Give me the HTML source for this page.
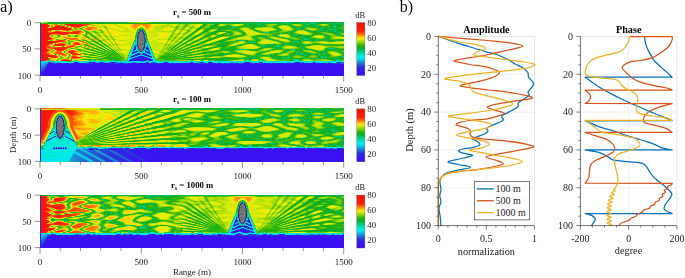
<!DOCTYPE html><html><head><meta charset="utf-8"><style>html,body{margin:0;padding:0;background:#fff;}svg{display:block;filter:blur(0.35px)}</style></head><body>
<svg width="685" height="278" viewBox="0 0 685 278" font-family='"Liberation Serif", serif'>
<rect width="685" height="278" fill="#fff"/>
<g opacity="0.999">
<defs>
<filter id="hm0" filterUnits="userSpaceOnUse" x="40.0" y="22.6" width="303.7" height="52.5" color-interpolation-filters="sRGB">
<feGaussianBlur in="SourceGraphic" stdDeviation="0.5" result="src"/>
<feColorMatrix in="src" type="matrix" values="0 1 0 0 0  0 1 0 0 0  0 1 0 0 0  0 0 0 0 1" result="amp"/>
<feColorMatrix in="src" type="matrix" values="1 0 0 0 0  1 0 0 0 0  1 0 0 0 0  0 0 0 0 1" result="base"/>
<feTurbulence type="turbulence" baseFrequency="0.058 0.22" numOctaves="1" seed="7" result="n0"/>
<feColorMatrix in="n0" type="matrix" values="0 0 0 1 0  0 0 0 1 0  0 0 0 1 0  0 0 0 0 1" result="n1"/>
<feComponentTransfer in="n1" result="n">
<feFuncR type="table" tableValues="0.000 0.246 0.360 0.450 0.527 0.596 0.659 0.718 0.772 0.824 0.873 0.920 0.965 1.000 1.000 1.000 1.000 1.000 1.000 1.000 1.000 1.000 1.000 1.000 1.000 1.000 1.000 1.000 1.000 1.000 1.000 1.000 1.000 1.000 1.000 1.000 1.000 1.000 1.000 1.000 1.000"/><feFuncG type="table" tableValues="0.000 0.246 0.360 0.450 0.527 0.596 0.659 0.718 0.772 0.824 0.873 0.920 0.965 1.000 1.000 1.000 1.000 1.000 1.000 1.000 1.000 1.000 1.000 1.000 1.000 1.000 1.000 1.000 1.000 1.000 1.000 1.000 1.000 1.000 1.000 1.000 1.000 1.000 1.000 1.000 1.000"/><feFuncB type="table" tableValues="0.000 0.246 0.360 0.450 0.527 0.596 0.659 0.718 0.772 0.824 0.873 0.920 0.965 1.000 1.000 1.000 1.000 1.000 1.000 1.000 1.000 1.000 1.000 1.000 1.000 1.000 1.000 1.000 1.000 1.000 1.000 1.000 1.000 1.000 1.000 1.000 1.000 1.000 1.000 1.000 1.000"/>
</feComponentTransfer>
<feComposite in="amp" in2="n" operator="arithmetic" k1="1" result="prod"/>
<feComposite in="base" in2="amp" operator="arithmetic" k2="1" k3="-0.27999999999999997" result="b2"/>
<feComposite in="b2" in2="prod" operator="arithmetic" k2="1" k3="0.4" result="f"/>
<feComponentTransfer in="f">
<feFuncR type="table" tableValues="0.235 0.233 0.230 0.227 0.224 0.222 0.219 0.216 0.203 0.186 0.170 0.155 0.146 0.138 0.129 0.120 0.102 0.081 0.059 0.038 0.023 0.009 0.000 0.000 0.000 0.000 0.000 0.000 0.000 0.002 0.013 0.024 0.035 0.062 0.100 0.138 0.176 0.285 0.394 0.503 0.601 0.681 0.774 0.874 0.945 0.987 1.000 1.000 0.998 0.991 0.983 0.979 0.976 0.973 0.971 0.970 0.969 0.968 0.967 0.966 0.964 0.963 0.962 0.961"/>
<feFuncG type="table" tableValues="0.055 0.061 0.067 0.073 0.079 0.085 0.091 0.097 0.129 0.167 0.205 0.248 0.314 0.379 0.444 0.510 0.583 0.659 0.735 0.809 0.860 0.911 0.935 0.918 0.902 0.886 0.861 0.833 0.806 0.778 0.748 0.717 0.687 0.681 0.692 0.703 0.714 0.746 0.779 0.812 0.844 0.874 0.902 0.928 0.929 0.878 0.773 0.664 0.558 0.456 0.354 0.270 0.198 0.125 0.113 0.109 0.104 0.099 0.094 0.090 0.085 0.080 0.075 0.071"/>
<feFuncB type="table" tableValues="0.961 0.958 0.955 0.953 0.950 0.947 0.944 0.942 0.917 0.886 0.856 0.831 0.831 0.831 0.831 0.831 0.847 0.868 0.890 0.911 0.923 0.934 0.919 0.865 0.810 0.756 0.684 0.608 0.532 0.453 0.366 0.279 0.192 0.137 0.105 0.072 0.039 0.039 0.039 0.039 0.039 0.039 0.039 0.039 0.039 0.039 0.039 0.039 0.039 0.039 0.039 0.039 0.039 0.039 0.039 0.038 0.037 0.036 0.035 0.035 0.034 0.033 0.032 0.031"/>
<feFuncA type="identity"/>
</feComponentTransfer>
</filter>
<filter id="hm1" filterUnits="userSpaceOnUse" x="40.0" y="108.9" width="303.7" height="52.5" color-interpolation-filters="sRGB">
<feGaussianBlur in="SourceGraphic" stdDeviation="0.5" result="src"/>
<feColorMatrix in="src" type="matrix" values="0 1 0 0 0  0 1 0 0 0  0 1 0 0 0  0 0 0 0 1" result="amp"/>
<feColorMatrix in="src" type="matrix" values="1 0 0 0 0  1 0 0 0 0  1 0 0 0 0  0 0 0 0 1" result="base"/>
<feTurbulence type="turbulence" baseFrequency="0.058 0.22" numOctaves="1" seed="11" result="n0"/>
<feColorMatrix in="n0" type="matrix" values="0 0 0 1 0  0 0 0 1 0  0 0 0 1 0  0 0 0 0 1" result="n1"/>
<feComponentTransfer in="n1" result="n">
<feFuncR type="table" tableValues="0.000 0.246 0.360 0.450 0.527 0.596 0.659 0.718 0.772 0.824 0.873 0.920 0.965 1.000 1.000 1.000 1.000 1.000 1.000 1.000 1.000 1.000 1.000 1.000 1.000 1.000 1.000 1.000 1.000 1.000 1.000 1.000 1.000 1.000 1.000 1.000 1.000 1.000 1.000 1.000 1.000"/><feFuncG type="table" tableValues="0.000 0.246 0.360 0.450 0.527 0.596 0.659 0.718 0.772 0.824 0.873 0.920 0.965 1.000 1.000 1.000 1.000 1.000 1.000 1.000 1.000 1.000 1.000 1.000 1.000 1.000 1.000 1.000 1.000 1.000 1.000 1.000 1.000 1.000 1.000 1.000 1.000 1.000 1.000 1.000 1.000"/><feFuncB type="table" tableValues="0.000 0.246 0.360 0.450 0.527 0.596 0.659 0.718 0.772 0.824 0.873 0.920 0.965 1.000 1.000 1.000 1.000 1.000 1.000 1.000 1.000 1.000 1.000 1.000 1.000 1.000 1.000 1.000 1.000 1.000 1.000 1.000 1.000 1.000 1.000 1.000 1.000 1.000 1.000 1.000 1.000"/>
</feComponentTransfer>
<feComposite in="amp" in2="n" operator="arithmetic" k1="1" result="prod"/>
<feComposite in="base" in2="amp" operator="arithmetic" k2="1" k3="-0.27999999999999997" result="b2"/>
<feComposite in="b2" in2="prod" operator="arithmetic" k2="1" k3="0.4" result="f"/>
<feComponentTransfer in="f">
<feFuncR type="table" tableValues="0.235 0.233 0.230 0.227 0.224 0.222 0.219 0.216 0.203 0.186 0.170 0.155 0.146 0.138 0.129 0.120 0.102 0.081 0.059 0.038 0.023 0.009 0.000 0.000 0.000 0.000 0.000 0.000 0.000 0.002 0.013 0.024 0.035 0.062 0.100 0.138 0.176 0.285 0.394 0.503 0.601 0.681 0.774 0.874 0.945 0.987 1.000 1.000 0.998 0.991 0.983 0.979 0.976 0.973 0.971 0.970 0.969 0.968 0.967 0.966 0.964 0.963 0.962 0.961"/>
<feFuncG type="table" tableValues="0.055 0.061 0.067 0.073 0.079 0.085 0.091 0.097 0.129 0.167 0.205 0.248 0.314 0.379 0.444 0.510 0.583 0.659 0.735 0.809 0.860 0.911 0.935 0.918 0.902 0.886 0.861 0.833 0.806 0.778 0.748 0.717 0.687 0.681 0.692 0.703 0.714 0.746 0.779 0.812 0.844 0.874 0.902 0.928 0.929 0.878 0.773 0.664 0.558 0.456 0.354 0.270 0.198 0.125 0.113 0.109 0.104 0.099 0.094 0.090 0.085 0.080 0.075 0.071"/>
<feFuncB type="table" tableValues="0.961 0.958 0.955 0.953 0.950 0.947 0.944 0.942 0.917 0.886 0.856 0.831 0.831 0.831 0.831 0.831 0.847 0.868 0.890 0.911 0.923 0.934 0.919 0.865 0.810 0.756 0.684 0.608 0.532 0.453 0.366 0.279 0.192 0.137 0.105 0.072 0.039 0.039 0.039 0.039 0.039 0.039 0.039 0.039 0.039 0.039 0.039 0.039 0.039 0.039 0.039 0.039 0.039 0.039 0.039 0.038 0.037 0.036 0.035 0.035 0.034 0.033 0.032 0.031"/>
<feFuncA type="identity"/>
</feComponentTransfer>
</filter>
<filter id="hm2" filterUnits="userSpaceOnUse" x="40.0" y="195.1" width="303.7" height="52.5" color-interpolation-filters="sRGB">
<feGaussianBlur in="SourceGraphic" stdDeviation="0.5" result="src"/>
<feColorMatrix in="src" type="matrix" values="0 1 0 0 0  0 1 0 0 0  0 1 0 0 0  0 0 0 0 1" result="amp"/>
<feColorMatrix in="src" type="matrix" values="1 0 0 0 0  1 0 0 0 0  1 0 0 0 0  0 0 0 0 1" result="base"/>
<feTurbulence type="turbulence" baseFrequency="0.058 0.22" numOctaves="1" seed="5" result="n0"/>
<feColorMatrix in="n0" type="matrix" values="0 0 0 1 0  0 0 0 1 0  0 0 0 1 0  0 0 0 0 1" result="n1"/>
<feComponentTransfer in="n1" result="n">
<feFuncR type="table" tableValues="0.000 0.246 0.360 0.450 0.527 0.596 0.659 0.718 0.772 0.824 0.873 0.920 0.965 1.000 1.000 1.000 1.000 1.000 1.000 1.000 1.000 1.000 1.000 1.000 1.000 1.000 1.000 1.000 1.000 1.000 1.000 1.000 1.000 1.000 1.000 1.000 1.000 1.000 1.000 1.000 1.000"/><feFuncG type="table" tableValues="0.000 0.246 0.360 0.450 0.527 0.596 0.659 0.718 0.772 0.824 0.873 0.920 0.965 1.000 1.000 1.000 1.000 1.000 1.000 1.000 1.000 1.000 1.000 1.000 1.000 1.000 1.000 1.000 1.000 1.000 1.000 1.000 1.000 1.000 1.000 1.000 1.000 1.000 1.000 1.000 1.000"/><feFuncB type="table" tableValues="0.000 0.246 0.360 0.450 0.527 0.596 0.659 0.718 0.772 0.824 0.873 0.920 0.965 1.000 1.000 1.000 1.000 1.000 1.000 1.000 1.000 1.000 1.000 1.000 1.000 1.000 1.000 1.000 1.000 1.000 1.000 1.000 1.000 1.000 1.000 1.000 1.000 1.000 1.000 1.000 1.000"/>
</feComponentTransfer>
<feComposite in="amp" in2="n" operator="arithmetic" k1="1" result="prod"/>
<feComposite in="base" in2="amp" operator="arithmetic" k2="1" k3="-0.27999999999999997" result="b2"/>
<feComposite in="b2" in2="prod" operator="arithmetic" k2="1" k3="0.4" result="f"/>
<feComponentTransfer in="f">
<feFuncR type="table" tableValues="0.235 0.233 0.230 0.227 0.224 0.222 0.219 0.216 0.203 0.186 0.170 0.155 0.146 0.138 0.129 0.120 0.102 0.081 0.059 0.038 0.023 0.009 0.000 0.000 0.000 0.000 0.000 0.000 0.000 0.002 0.013 0.024 0.035 0.062 0.100 0.138 0.176 0.285 0.394 0.503 0.601 0.681 0.774 0.874 0.945 0.987 1.000 1.000 0.998 0.991 0.983 0.979 0.976 0.973 0.971 0.970 0.969 0.968 0.967 0.966 0.964 0.963 0.962 0.961"/>
<feFuncG type="table" tableValues="0.055 0.061 0.067 0.073 0.079 0.085 0.091 0.097 0.129 0.167 0.205 0.248 0.314 0.379 0.444 0.510 0.583 0.659 0.735 0.809 0.860 0.911 0.935 0.918 0.902 0.886 0.861 0.833 0.806 0.778 0.748 0.717 0.687 0.681 0.692 0.703 0.714 0.746 0.779 0.812 0.844 0.874 0.902 0.928 0.929 0.878 0.773 0.664 0.558 0.456 0.354 0.270 0.198 0.125 0.113 0.109 0.104 0.099 0.094 0.090 0.085 0.080 0.075 0.071"/>
<feFuncB type="table" tableValues="0.961 0.958 0.955 0.953 0.950 0.947 0.944 0.942 0.917 0.886 0.856 0.831 0.831 0.831 0.831 0.831 0.847 0.868 0.890 0.911 0.923 0.934 0.919 0.865 0.810 0.756 0.684 0.608 0.532 0.453 0.366 0.279 0.192 0.137 0.105 0.072 0.039 0.039 0.039 0.039 0.039 0.039 0.039 0.039 0.039 0.039 0.039 0.039 0.039 0.039 0.039 0.039 0.039 0.039 0.039 0.038 0.037 0.036 0.035 0.035 0.034 0.033 0.032 0.031"/>
<feFuncA type="identity"/>
</feComponentTransfer>
</filter>
<linearGradient id="cb" x1="0" y1="1" x2="0" y2="0">
<stop offset="0.000" stop-color="#3c0ef5"/>
<stop offset="0.025" stop-color="#3a10f3"/>
<stop offset="0.050" stop-color="#3912f2"/>
<stop offset="0.075" stop-color="#3815f1"/>
<stop offset="0.100" stop-color="#3717f0"/>
<stop offset="0.125" stop-color="#341fea"/>
<stop offset="0.150" stop-color="#2d2ede"/>
<stop offset="0.175" stop-color="#273fd4"/>
<stop offset="0.200" stop-color="#245ad4"/>
<stop offset="0.225" stop-color="#2074d4"/>
<stop offset="0.250" stop-color="#1b8fd6"/>
<stop offset="0.275" stop-color="#12aedf"/>
<stop offset="0.300" stop-color="#0acde8"/>
<stop offset="0.325" stop-color="#04e1ec"/>
<stop offset="0.350" stop-color="#00eee9"/>
<stop offset="0.375" stop-color="#00e7d3"/>
<stop offset="0.400" stop-color="#00e1be"/>
<stop offset="0.425" stop-color="#00d69f"/>
<stop offset="0.450" stop-color="#00cb80"/>
<stop offset="0.475" stop-color="#03bf5f"/>
<stop offset="0.500" stop-color="#07b23b"/>
<stop offset="0.525" stop-color="#10ad22"/>
<stop offset="0.550" stop-color="#1fb215"/>
<stop offset="0.575" stop-color="#33b70a"/>
<stop offset="0.600" stop-color="#5fc50a"/>
<stop offset="0.625" stop-color="#8ad20a"/>
<stop offset="0.650" stop-color="#acde0a"/>
<stop offset="0.675" stop-color="#d2e90a"/>
<stop offset="0.700" stop-color="#f2ec0a"/>
<stop offset="0.725" stop-color="#fece0a"/>
<stop offset="0.750" stop-color="#ffa20a"/>
<stop offset="0.775" stop-color="#fc780a"/>
<stop offset="0.800" stop-color="#fa500a"/>
<stop offset="0.825" stop-color="#f8320a"/>
<stop offset="0.850" stop-color="#f71d09"/>
<stop offset="0.875" stop-color="#f71b09"/>
<stop offset="0.900" stop-color="#f61909"/>
<stop offset="0.925" stop-color="#f61708"/>
<stop offset="0.950" stop-color="#f51508"/>
<stop offset="0.975" stop-color="#f51308"/>
<stop offset="1.000" stop-color="#f51208"/>
</linearGradient>
</defs>
<defs><filter id="gnoise" x="-20%" y="-20%" width="140%" height="140%" color-interpolation-filters="sRGB">
<feTurbulence type="fractalNoise" baseFrequency="0.9" numOctaves="1" seed="3" result="n"/>
<feColorMatrix in="n" type="matrix" values="0 0 0 0.5 0.25  0 0 0 0.5 0.25  0 0 0 0.5 0.25  0 0 0 0 1" result="ng"/>
<feComposite in="SourceGraphic" in2="ng" operator="arithmetic" k2="1" k3="0.8" k4="-0.4" result="c"/>
<feComposite in="c" in2="SourceGraphic" operator="in"/>
</filter></defs>
<g filter="url(#hm0)">
<defs><linearGradient id="g1" gradientUnits="userSpaceOnUse" x1="40.0" y1="0.0" x2="343.7" y2="0.0"><stop offset="0.000" stop-color="#f81a00" stop-opacity="1"/><stop offset="0.016" stop-color="#f04c00" stop-opacity="1"/><stop offset="0.036" stop-color="#ccff00" stop-opacity="1"/><stop offset="0.099" stop-color="#c5ff00" stop-opacity="1"/><stop offset="0.158" stop-color="#bab200" stop-opacity="1"/><stop offset="0.198" stop-color="#b14000" stop-opacity="1"/><stop offset="0.263" stop-color="#af2600" stop-opacity="1"/><stop offset="0.333" stop-color="#ad1a00" stop-opacity="1"/><stop offset="0.402" stop-color="#ad2600" stop-opacity="1"/><stop offset="0.527" stop-color="#ab3300" stop-opacity="1"/><stop offset="0.586" stop-color="#a28000" stop-opacity="1"/><stop offset="0.659" stop-color="#9aa300" stop-opacity="1"/><stop offset="1.000" stop-color="#9aa300" stop-opacity="1"/></linearGradient></defs>
<rect x="40.0" y="22.6" width="303.7" height="40.2" fill="url(#g1)"/>
<defs><radialGradient id="g2" gradientUnits="userSpaceOnUse" cx="141.2" cy="40.9" r="20" gradientTransform="translate(141.2 40.9) scale(1 1.3000) translate(-141.2 -40.9)"><stop offset="0" stop-color="#af0000" stop-opacity="1"/><stop offset="0.7" stop-color="#ad0d00" stop-opacity="0.8"/><stop offset="1" stop-color="#ab1a00" stop-opacity="0"/></radialGradient></defs>
<ellipse cx="141.2" cy="40.9" rx="20.00" ry="26.00" fill="url(#g2)" />
<defs><radialGradient id="g3" gradientUnits="userSpaceOnUse" cx="141.2" cy="26.1" r="16" gradientTransform="translate(141.2 26.1) scale(1 0.4375) translate(-141.2 -26.1)"><stop offset="0" stop-color="#d00000" stop-opacity="1"/><stop offset="0.45" stop-color="#c80000" stop-opacity="0.85"/><stop offset="1" stop-color="#b20000" stop-opacity="0"/></radialGradient></defs>
<ellipse cx="141.2" cy="26.1" rx="16.00" ry="7.00" fill="url(#g3)" />
<defs><radialGradient id="g4" gradientUnits="userSpaceOnUse" cx="141.2" cy="28.6" r="9" gradientTransform="translate(141.2 28.6) scale(1 0.6667) translate(-141.2 -28.6)"><stop offset="0" stop-color="#cc0000" stop-opacity="1"/><stop offset="0.5" stop-color="#c50000" stop-opacity="0.9"/><stop offset="1" stop-color="#b60000" stop-opacity="0"/></radialGradient></defs>
<ellipse cx="141.2" cy="28.6" rx="9.00" ry="6.00" fill="url(#g4)" />
<ellipse cx="141.2" cy="39.3" rx="7.40" ry="14.00" fill="#b10000" />
<ellipse cx="141.2" cy="40.3" rx="6.40" ry="12.80" fill="#920000" />
<defs><linearGradient id="g5" gradientUnits="userSpaceOnUse" x1="0.0" y1="32.6" x2="0.0" y2="61.8"><stop offset="0.000" stop-color="#ab1a00" stop-opacity="0"/><stop offset="0.500" stop-color="#b61a00" stop-opacity="0.5"/><stop offset="1.000" stop-color="#bd1a00" stop-opacity="0.9"/></linearGradient></defs>
<polygon points="124.7,59.8 81.2,32.6 81.2,61.8" fill="url(#g5)" />
<defs><radialGradient id="g6" gradientUnits="userSpaceOnUse" cx="155.2" cy="60.8" r="90"><stop offset="0" stop-color="#871a00" stop-opacity="0.5"/><stop offset="0.3" stop-color="#871a00" stop-opacity="1"/><stop offset="0.8" stop-color="#871a00" stop-opacity="1"/><stop offset="1" stop-color="#871a00" stop-opacity="0"/></radialGradient></defs>
<path d="M155.2,61.0L245.2,58.9L245.1,56.4L155.2,60.5ZM155.3,61.0L244.9,53.4L244.7,50.9L155.2,60.5ZM155.3,61.0L244.3,47.9L243.9,45.5L155.2,60.5ZM155.3,61.0L243.3,42.1L242.7,39.5L155.2,60.5ZM155.3,61.0L241.8,36.1L241.0,33.4L155.2,60.5ZM155.3,61.0L239.8,29.9L238.7,27.2L155.1,60.5ZM155.3,61.0L237.1,23.4L235.8,20.6L155.1,60.5ZM155.4,61.0L233.6,16.5L231.9,13.7L155.1,60.5ZM155.4,61.0L229.1,9.3L227.0,6.4L155.1,60.6Z" fill="url(#g6)"/>
<defs><radialGradient id="g7" gradientUnits="userSpaceOnUse" cx="155.2" cy="60.8" r="60"><stop offset="0" stop-color="#921a00" stop-opacity="0.3"/><stop offset="0.3" stop-color="#921a00" stop-opacity="0.6"/><stop offset="0.8" stop-color="#921a00" stop-opacity="0.6"/><stop offset="1" stop-color="#921a00" stop-opacity="0"/></radialGradient></defs>
<path d="M155.4,61.0L200.7,21.6L198.9,19.6L155.1,60.6ZM155.4,60.9L195.6,16.4L193.6,14.6L155.0,60.6ZM155.4,60.9L189.2,11.3L186.6,9.6L155.0,60.6Z" fill="url(#g7)"/>
<defs><radialGradient id="g8" gradientUnits="userSpaceOnUse" cx="127.2" cy="60.8" r="58"><stop offset="0" stop-color="#871a00" stop-opacity="0.5"/><stop offset="0.3" stop-color="#871a00" stop-opacity="1"/><stop offset="0.7" stop-color="#871a00" stop-opacity="1"/><stop offset="1" stop-color="#871a00" stop-opacity="0"/></radialGradient></defs>
<path d="M127.2,60.5L69.3,57.9L69.2,59.6L127.2,61.0ZM127.3,60.5L69.6,54.3L69.4,56.1L127.2,61.0ZM127.3,60.5L70.1,50.8L69.8,52.6L127.2,61.0ZM127.3,60.5L70.9,47.0L70.5,48.8L127.2,61.0ZM127.3,60.5L72.0,43.1L71.4,44.9L127.2,61.0ZM127.3,60.5L73.4,39.0L72.7,40.9L127.1,61.0ZM127.3,60.5L75.3,34.8L74.4,36.8L127.1,61.0ZM127.4,60.5L77.8,30.3L76.7,32.3L127.1,61.0ZM127.4,60.6L81.0,25.7L79.6,27.7L127.1,61.0Z" fill="url(#g8)"/>
<defs><radialGradient id="g9" gradientUnits="userSpaceOnUse" cx="127.2" cy="60.8" r="50"><stop offset="0" stop-color="#921a00" stop-opacity="0.3"/><stop offset="0.3" stop-color="#921a00" stop-opacity="0.6"/><stop offset="0.8" stop-color="#921a00" stop-opacity="0.6"/><stop offset="1" stop-color="#921a00" stop-opacity="0"/></radialGradient></defs>
<path d="M127.4,60.6L90.9,26.4L89.3,28.2L127.1,61.0ZM127.4,60.6L95.3,22.3L93.6,23.8L127.0,60.9ZM127.4,60.6L101.1,18.1L98.9,19.5L127.0,60.9Z" fill="url(#g9)"/>
<polygon points="135.2,38.9 147.2,38.9 156.7,62.3 125.7,62.3" fill="#620d00" />
<polygon points="136.4,40.9 146.0,40.9 153.7,62.3 128.7,62.3" fill="#160000" />
<polyline points="133.7,51.7 141.2,46.7 148.7,51.7" fill="none" stroke="#570000" stroke-width="1.3" />
<polyline points="131.2,55.5 141.2,50.9 151.2,55.5" fill="none" stroke="#570000" stroke-width="1.4" />
<polyline points="128.7,59.1 141.2,54.9 153.7,59.1" fill="none" stroke="#570000" stroke-width="1.4" />
<ellipse cx="141.2" cy="41.2" rx="5.90" ry="12.30" fill="#800000" />
<ellipse cx="141.2" cy="41.1" rx="5.00" ry="11.60" fill="#5b0000" />
<ellipse cx="141.2" cy="40.9" rx="4.30" ry="11.10" fill="#120000" />
<rect x="40.0" y="61.8" width="303.7" height="14.3" fill="#070000"/>
<defs><linearGradient id="g10" gradientUnits="userSpaceOnUse" x1="0.0" y1="61.8" x2="0.0" y2="65.8"><stop offset="0.000" stop-color="#210000" stop-opacity="1"/><stop offset="1.000" stop-color="#070000" stop-opacity="1"/></linearGradient></defs>
<rect x="40.0" y="61.8" width="303.7" height="4" fill="url(#g10)"/>
<polygon points="40.0,61.2 43.3,61.2 46.0,61.0 48.8,60.1 50.9,60.9 53.8,60.9 57.2,61.4 59.0,60.9 60.6,61.0 62.2,61.2 65.4,61.3 67.9,61.4 69.9,61.7 73.1,61.4 75.1,59.7 78.1,61.2 80.4,61.6 81.9,61.0 84.3,61.6 86.0,61.4 88.0,60.9 91.4,60.1 93.4,59.5 96.5,61.0 98.9,61.0 100.7,60.0 103.0,61.0 106.5,61.5 109.7,61.0 112.9,60.0 116.4,61.0 119.5,61.1 121.1,60.9 123.1,61.3 125.5,61.6 128.2,61.6 130.0,61.6 132.0,61.0 135.3,61.0 138.6,61.3 140.3,60.9 142.3,61.4 145.4,61.3 147.3,60.0 149.3,61.3 152.0,61.1 153.9,60.9 156.3,60.9 158.5,61.3 160.7,61.6 163.6,61.4 165.3,59.5 168.7,61.4 170.2,61.4 173.2,61.1 174.8,61.3 178.1,61.5 181.2,61.6 184.1,61.6 186.4,61.5 189.0,61.4 191.7,60.0 194.5,61.7 197.4,61.2 200.1,61.2 201.8,60.1 204.5,61.2 207.4,61.3 210.7,59.7 212.8,61.4 214.7,61.6 217.0,61.6 219.9,61.0 223.0,61.6 225.3,61.3 227.0,61.3 230.2,61.4 232.3,61.0 234.3,61.0 237.1,61.3 240.3,61.7 241.9,60.9 243.5,61.4 245.6,60.1 247.4,59.8 250.5,61.1 252.1,61.4 254.9,61.4 258.3,61.4 260.8,59.6 263.2,61.4 265.3,61.1 267.8,61.4 270.1,61.5 271.8,61.6 273.5,61.2 276.8,61.2 280.1,61.5 282.5,61.4 285.5,61.5 288.4,61.0 291.9,61.6 294.9,61.1 298.2,59.7 300.5,61.3 303.0,60.9 304.6,61.5 306.8,61.5 308.6,61.3 311.8,61.4 314.3,60.2 316.2,61.3 319.2,61.4 322.4,61.3 324.6,61.5 326.5,61.5 329.1,61.3 331.7,61.3 333.2,61.6 335.5,61.5 338.0,60.0 340.6,61.2 343.9,61.1 345.7,61.2 345.7,62.8 343.9,62.5 340.6,62.6 338.0,61.6 335.5,63.3 333.2,63.0 331.7,63.0 329.1,62.6 326.5,62.9 324.6,63.0 322.4,63.0 319.2,62.8 316.2,62.8 314.3,61.8 311.8,62.8 308.6,62.9 306.8,62.9 304.6,63.1 303.0,62.3 300.5,62.7 298.2,61.3 294.9,62.6 291.9,63.1 288.4,62.5 285.5,63.1 282.5,62.8 280.1,62.9 276.8,62.8 273.5,62.8 271.8,63.2 270.1,63.2 267.8,63.0 265.3,62.9 263.2,62.9 260.8,61.3 258.3,63.1 254.9,63.1 252.1,62.8 250.5,62.5 247.4,61.6 245.6,61.5 243.5,63.2 241.9,62.6 240.3,63.0 237.1,62.7 234.3,62.7 232.3,62.4 230.2,62.8 227.0,63.0 225.3,62.8 223.0,63.3 219.9,62.4 217.0,63.1 214.7,63.2 212.8,62.7 210.7,61.1 207.4,62.9 204.5,63.0 201.8,61.8 200.1,62.6 197.4,62.7 194.5,63.3 191.7,61.5 189.0,63.0 186.4,62.9 184.1,62.9 181.2,63.0 178.1,62.8 174.8,62.9 173.2,62.7 170.2,63.0 168.7,62.8 165.3,60.9 163.6,62.8 160.7,63.3 158.5,63.1 156.3,62.7 153.9,62.2 152.0,62.4 149.3,63.1 147.3,61.6 145.4,63.0 142.3,62.9 140.3,62.4 138.6,62.9 135.3,62.5 132.0,62.6 130.0,62.9 128.2,63.2 125.5,63.4 123.1,62.7 121.1,62.5 119.5,62.8 116.4,62.5 112.9,61.4 109.7,62.4 106.5,63.1 103.0,62.3 100.7,61.7 98.9,62.7 96.5,62.7 93.4,61.3 91.4,61.7 88.0,62.4 86.0,63.0 84.3,63.2 81.9,62.8 80.4,63.3 78.1,62.6 75.1,61.5 73.1,63.1 69.9,63.4 67.9,63.1 65.4,62.8 62.2,63.0 60.6,62.8 59.0,62.5 57.2,63.1 53.8,62.6 50.9,62.4 48.8,61.8 46.0,62.3 43.3,62.7 40.0,62.8" fill="#5f0000" />
<ellipse cx="43.2" cy="63.4" rx="0.88" ry="0.60" fill="#330000" />
<ellipse cx="234.0" cy="63.4" rx="1.10" ry="0.60" fill="#330000" />
<ellipse cx="110.5" cy="63.4" rx="1.36" ry="0.60" fill="#330000" />
<ellipse cx="242.3" cy="63.4" rx="0.87" ry="0.60" fill="#330000" />
<ellipse cx="240.4" cy="63.4" rx="1.06" ry="0.60" fill="#330000" />
<ellipse cx="201.9" cy="63.4" rx="0.91" ry="0.60" fill="#330000" />
<ellipse cx="343.7" cy="63.4" rx="1.11" ry="0.60" fill="#330000" />
<ellipse cx="253.0" cy="63.4" rx="1.21" ry="0.60" fill="#330000" />
<ellipse cx="337.7" cy="63.4" rx="0.62" ry="0.60" fill="#330000" />
<ellipse cx="226.9" cy="63.4" rx="1.19" ry="0.60" fill="#330000" />
<ellipse cx="117.9" cy="63.4" rx="0.92" ry="0.60" fill="#330000" />
<ellipse cx="55.3" cy="63.4" rx="0.76" ry="0.60" fill="#330000" />
<ellipse cx="154.1" cy="63.4" rx="0.68" ry="0.60" fill="#330000" />
<ellipse cx="116.2" cy="63.4" rx="1.32" ry="0.60" fill="#330000" />
<ellipse cx="207.1" cy="63.4" rx="1.01" ry="0.60" fill="#330000" />
<ellipse cx="333.7" cy="63.4" rx="1.05" ry="0.60" fill="#330000" />
<ellipse cx="342.2" cy="63.4" rx="1.11" ry="0.60" fill="#330000" />
<ellipse cx="285.9" cy="63.4" rx="0.66" ry="0.60" fill="#330000" />
<ellipse cx="221.5" cy="63.4" rx="1.21" ry="0.60" fill="#330000" />
<ellipse cx="53.7" cy="63.4" rx="1.34" ry="0.60" fill="#330000" />
<ellipse cx="88.6" cy="63.4" rx="0.98" ry="0.60" fill="#330000" />
<ellipse cx="91.4" cy="63.4" rx="1.00" ry="0.60" fill="#330000" />
<ellipse cx="225.6" cy="63.4" rx="0.65" ry="0.60" fill="#330000" />
<ellipse cx="327.1" cy="63.4" rx="0.94" ry="0.60" fill="#330000" />
<ellipse cx="200.0" cy="63.4" rx="1.08" ry="0.60" fill="#330000" />
<ellipse cx="151.0" cy="63.4" rx="0.83" ry="0.60" fill="#330000" />
<ellipse cx="239.0" cy="63.4" rx="1.05" ry="0.60" fill="#330000" />
<ellipse cx="126.1" cy="63.4" rx="1.17" ry="0.60" fill="#330000" />
<ellipse cx="129.9" cy="63.4" rx="0.61" ry="0.60" fill="#330000" />
<ellipse cx="114.4" cy="63.4" rx="0.63" ry="0.60" fill="#330000" />
<ellipse cx="87.6" cy="63.4" rx="1.20" ry="0.60" fill="#330000" />
<ellipse cx="158.4" cy="63.4" rx="1.32" ry="0.60" fill="#330000" />
<ellipse cx="267.3" cy="63.4" rx="0.64" ry="0.60" fill="#330000" />
<ellipse cx="340.3" cy="63.4" rx="1.36" ry="0.60" fill="#330000" />
<ellipse cx="62.3" cy="63.4" rx="1.32" ry="0.60" fill="#330000" />
<ellipse cx="170.4" cy="63.4" rx="0.98" ry="0.60" fill="#330000" />
<ellipse cx="335.6" cy="63.4" rx="0.79" ry="0.60" fill="#330000" />
<ellipse cx="198.9" cy="63.4" rx="1.35" ry="0.60" fill="#330000" />
<ellipse cx="259.5" cy="63.4" rx="0.97" ry="0.60" fill="#330000" />
<ellipse cx="337.3" cy="63.4" rx="1.25" ry="0.60" fill="#330000" />
<ellipse cx="223.3" cy="63.4" rx="0.69" ry="0.60" fill="#330000" />
<ellipse cx="229.6" cy="63.4" rx="0.96" ry="0.60" fill="#330000" />
<ellipse cx="101.9" cy="63.4" rx="0.64" ry="0.60" fill="#330000" />
<ellipse cx="200.4" cy="63.4" rx="0.70" ry="0.60" fill="#330000" />
<ellipse cx="174.5" cy="63.4" rx="1.13" ry="0.60" fill="#330000" />
<ellipse cx="178.4" cy="63.4" rx="0.81" ry="0.60" fill="#330000" />
<ellipse cx="216.8" cy="63.4" rx="0.94" ry="0.60" fill="#330000" />
<ellipse cx="276.3" cy="63.4" rx="1.02" ry="0.60" fill="#330000" />
<ellipse cx="343.0" cy="63.4" rx="1.36" ry="0.60" fill="#330000" />
<ellipse cx="263.0" cy="63.4" rx="0.79" ry="0.60" fill="#330000" />
<defs><linearGradient id="g11" gradientUnits="userSpaceOnUse" x1="40.0" y1="61.8" x2="49.0" y2="75.1"><stop offset="0.000" stop-color="#570000" stop-opacity="1"/><stop offset="1.000" stop-color="#0f0000" stop-opacity="1"/></linearGradient></defs>
<polygon points="40.0,61.8 49.0,61.8 42.0,75.1 40.0,75.1" fill="url(#g11)" />
<rect x="40.0" y="22.6" width="303.7" height="1.2" fill="#7c1a00"/>
<rect x="40.0" y="22.6" width="0.9" height="52.5" fill="#0f0000"/>
</g>
<ellipse cx="141.2" cy="40.9" rx="3.80" ry="10.60" fill="#747474" stroke="#3a2a9a" stroke-width="0.9" filter="url(#gnoise)"/>
<g filter="url(#hm1)">
<defs><linearGradient id="g12" gradientUnits="userSpaceOnUse" x1="40.0" y1="0.0" x2="343.7" y2="0.0"><stop offset="0.000" stop-color="#ed3300" stop-opacity="1"/><stop offset="0.072" stop-color="#e92600" stop-opacity="1"/><stop offset="0.105" stop-color="#cc2600" stop-opacity="1"/><stop offset="0.148" stop-color="#ba2600" stop-opacity="1"/><stop offset="0.230" stop-color="#b43300" stop-opacity="1"/><stop offset="0.362" stop-color="#af4c00" stop-opacity="1"/><stop offset="0.477" stop-color="#a48000" stop-opacity="1"/><stop offset="0.560" stop-color="#9e9900" stop-opacity="1"/><stop offset="0.691" stop-color="#9aa300" stop-opacity="1"/><stop offset="1.000" stop-color="#9aa300" stop-opacity="1"/></linearGradient></defs>
<rect x="40.0" y="108.9" width="303.7" height="39.6" fill="url(#g12)"/>
<defs><linearGradient id="g13" gradientUnits="userSpaceOnUse" x1="40.0" y1="0.0" x2="90.2" y2="0.0"><stop offset="0.000" stop-color="#e91a00" stop-opacity="1"/><stop offset="0.463" stop-color="#e91a00" stop-opacity="1"/><stop offset="0.602" stop-color="#d71a00" stop-opacity="1"/><stop offset="0.761" stop-color="#c51a00" stop-opacity="1"/><stop offset="1.000" stop-color="#b62600" stop-opacity="1"/></linearGradient></defs>
<polygon points="40.0,108.9 90.2,108.9 90.2,114.9 70.2,143.5 60.2,127.2 44.0,141.5 40.0,143.5" fill="url(#g13)" />
<defs><linearGradient id="g14" gradientUnits="userSpaceOnUse" x1="0.0" y1="113.9" x2="0.0" y2="147.5"><stop offset="0.000" stop-color="#af3300" stop-opacity="0"/><stop offset="0.450" stop-color="#b63300" stop-opacity="0.5"/><stop offset="0.800" stop-color="#bf3300" stop-opacity="0.9"/><stop offset="1.000" stop-color="#c13300" stop-opacity="0.9"/></linearGradient></defs>
<defs><linearGradient id="fmg1" gradientUnits="userSpaceOnUse" x1="72.2" y1="0" x2="202.2" y2="0"><stop offset="0" stop-color="#fff"/><stop offset="0.5" stop-color="#fff"/><stop offset="1" stop-color="#000"/></linearGradient><mask id="fm1" maskUnits="userSpaceOnUse" x="40.0" y="108.9" width="303.7" height="52.5"><rect x="72.2" y="108.9" width="130" height="38.6" fill="url(#fmg1)"/></mask></defs>
<rect x="72.2" y="108.9" width="130" height="38.6" fill="url(#g14)" mask="url(#fm1)"/>
<path d="M47.3,127.2 A12.9,17.8 0 0 1 73.1,127.2 L83.1,147.5 L37.3,147.5 Z" fill="#cc0000"/>
<path d="M50.3,127.2 A9.9,15.5 0 0 1 70.1,127.2 L80.1,147.5 L40.3,147.5 Z" fill="#b20000"/>
<path d="M52.9,127.2 A7.3,13.6 0 0 1 67.5,127.2 L77.5,147.5 L42.9,147.5 Z" fill="#8e0000"/>
<defs><radialGradient id="g15" gradientUnits="userSpaceOnUse" cx="69.2" cy="145.0" r="140"><stop offset="0" stop-color="#871a00" stop-opacity="0.5"/><stop offset="0.2" stop-color="#871a00" stop-opacity="1"/><stop offset="0.75" stop-color="#871a00" stop-opacity="1"/><stop offset="1" stop-color="#871a00" stop-opacity="0"/></radialGradient></defs>
<path d="M69.3,145.2L209.2,143.8L209.2,141.3L69.2,144.7ZM69.3,145.2L209.1,137.7L208.9,135.2L69.2,144.7ZM69.3,145.2L208.6,131.6L208.3,129.1L69.2,144.7ZM69.3,145.2L207.8,125.1L207.4,122.5L69.2,144.7ZM69.3,145.2L206.7,118.4L206.2,115.7L69.2,144.7ZM69.3,145.2L205.2,111.3L204.4,108.5L69.2,144.7ZM69.3,145.2L203.1,103.9L202.2,101.0L69.2,144.7ZM69.3,145.2L200.5,96.3L199.4,93.3L69.2,144.8ZM69.4,145.2L197.3,88.4L196.0,85.4L69.1,144.8ZM69.4,145.2L193.2,79.8L191.4,76.5L69.1,144.8Z" fill="url(#g15)"/>
<polygon points="40.0,147.5 49.0,147.0 54.2,132.2 66.2,132.2 77.2,147.5 68.2,162.4 40.0,162.4" fill="#5b2600" />
<line x1="40.0" y1="142.2" x2="52.2" y2="136.2" stroke="#bd0000" stroke-width="1.1" stroke-opacity="0.8"/>
<line x1="40.0" y1="144.8" x2="52.2" y2="138.8" stroke="#990000" stroke-width="1.1" stroke-opacity="0.8"/>
<line x1="40.0" y1="147.4" x2="52.2" y2="141.4" stroke="#7c0000" stroke-width="1.1" stroke-opacity="0.8"/>
<line x1="40.0" y1="150.0" x2="52.2" y2="144.0" stroke="#a80000" stroke-width="1.1" stroke-opacity="0.8"/>
<polygon points="54.2,125.2 66.2,125.2 78.2,148.0 42.2,148.0" fill="#5f0d00" />
<polyline points="49.7,133.7 60.2,127.9 70.7,133.7" fill="none" stroke="#160000" stroke-width="1.0" />
<polyline points="45.7,141.4 60.2,133.9 74.7,141.4" fill="none" stroke="#160000" stroke-width="1.0" />
<ellipse cx="60.2" cy="127.5" rx="6.00" ry="12.70" fill="#800000" />
<ellipse cx="60.2" cy="127.4" rx="5.10" ry="12.00" fill="#5b0000" />
<ellipse cx="60.2" cy="127.2" rx="4.40" ry="11.50" fill="#120000" />
<defs><linearGradient id="g16" gradientUnits="userSpaceOnUse" x1="60.2" y1="0.0" x2="343.7" y2="0.0"><stop offset="0.000" stop-color="#4c0000" stop-opacity="1"/><stop offset="0.053" stop-color="#3e0000" stop-opacity="1"/><stop offset="0.141" stop-color="#2f0000" stop-opacity="1"/><stop offset="0.247" stop-color="#1d0000" stop-opacity="1"/><stop offset="0.353" stop-color="#0b0000" stop-opacity="1"/><stop offset="1.000" stop-color="#070000" stop-opacity="1"/></linearGradient></defs>
<polygon points="77.2,147.5 343.7,147.5 343.7,162.4 68.2,162.4" fill="url(#g16)" />
<line x1="68.2" y1="148.5" x2="93.2" y2="162.4" stroke="#540000" stroke-width="2.5" stroke-opacity="0.8"/>
<line x1="80.2" y1="148.5" x2="105.2" y2="162.4" stroke="#500000" stroke-width="2.5" stroke-opacity="0.7"/>
<line x1="93.2" y1="148.5" x2="118.2" y2="162.4" stroke="#490000" stroke-width="2.5" stroke-opacity="0.7"/>
<line x1="107.2" y1="148.5" x2="132.2" y2="162.4" stroke="#420000" stroke-width="2.5" stroke-opacity="0.6"/>
<line x1="122.2" y1="148.5" x2="147.2" y2="162.4" stroke="#3a0000" stroke-width="2.5" stroke-opacity="0.5"/>
<line x1="138.2" y1="148.5" x2="163.2" y2="162.4" stroke="#2f0000" stroke-width="2.5" stroke-opacity="0.4"/>
<polygon points="76.2,147.1 79.3,147.3 82.7,146.6 86.1,147.1 87.8,147.0 90.4,145.6 92.3,146.8 95.3,146.7 97.1,147.1 98.6,147.3 100.6,147.4 102.6,147.4 105.5,146.8 108.4,147.4 110.5,146.9 112.3,146.6 115.0,146.6 117.1,146.8 119.6,146.8 122.5,146.6 124.1,147.2 125.6,147.2 128.3,145.2 130.1,147.4 133.1,147.3 135.3,146.9 138.4,146.7 141.5,145.9 144.9,146.7 147.6,147.3 150.9,147.0 153.1,145.3 154.9,147.1 156.7,146.6 159.2,146.9 161.9,147.2 164.3,146.6 165.8,147.0 167.6,147.2 170.4,147.2 172.7,146.7 174.8,147.0 178.0,147.4 180.5,147.2 182.6,146.9 184.8,147.4 187.6,147.0 189.3,146.8 192.5,146.9 195.6,147.1 198.6,146.9 200.6,147.0 203.5,146.8 206.3,145.7 208.9,146.8 211.3,147.2 214.4,146.9 217.4,147.3 220.6,147.3 224.0,147.4 226.6,146.7 230.0,147.0 232.9,147.2 236.0,147.1 238.3,147.1 241.1,145.8 242.9,146.9 244.9,147.1 246.4,147.0 248.0,146.7 249.9,145.3 252.3,146.9 255.0,146.8 256.5,146.9 258.8,146.7 261.1,146.6 262.8,147.0 265.4,147.4 267.8,147.2 270.0,146.7 272.6,147.4 275.4,146.9 276.9,146.7 279.6,146.7 282.9,146.9 284.8,146.8 287.1,147.4 289.8,146.8 292.3,146.9 295.7,147.0 298.2,146.7 300.6,146.8 303.7,146.6 305.8,147.3 307.8,146.8 311.3,146.8 313.7,147.1 316.7,146.7 318.8,147.0 320.9,147.0 323.1,147.2 324.7,146.8 328.0,147.3 329.5,147.2 332.2,147.2 334.7,147.3 336.9,147.3 339.0,145.9 342.2,147.1 344.3,147.2 346.1,147.0 346.1,148.4 344.3,148.6 342.2,148.5 339.0,147.3 336.9,148.7 334.7,148.7 332.2,148.6 329.5,148.6 328.0,148.7 324.7,148.2 323.1,148.6 320.9,148.4 318.8,148.4 316.7,148.1 313.7,148.5 311.3,148.2 307.8,148.2 305.8,148.7 303.7,148.0 300.6,148.2 298.2,148.1 295.7,148.4 292.3,148.3 289.8,148.2 287.1,148.8 284.8,148.2 282.9,148.3 279.6,148.1 276.9,148.1 275.4,148.3 272.6,148.8 270.0,148.1 267.8,148.6 265.4,148.8 262.8,148.4 261.1,148.0 258.8,148.1 256.5,148.3 255.0,148.2 252.3,148.3 249.9,146.7 248.0,148.1 246.4,148.4 244.9,148.5 242.9,148.3 241.1,147.2 238.3,148.5 236.0,148.5 232.9,148.6 230.0,148.4 226.6,148.1 224.0,148.8 220.6,148.7 217.4,148.7 214.4,148.3 211.3,148.6 208.9,148.2 206.3,147.1 203.5,148.2 200.6,148.4 198.6,148.3 195.6,148.5 192.5,148.3 189.3,148.2 187.6,148.4 184.8,148.8 182.6,148.3 180.5,148.6 178.0,148.8 174.8,148.4 172.7,148.1 170.4,148.6 167.6,148.6 165.8,148.4 164.3,148.0 161.9,148.6 159.2,148.3 156.7,148.0 154.9,148.5 153.1,146.7 150.9,148.4 147.6,148.7 144.9,148.1 141.5,147.3 138.4,148.1 135.3,148.3 133.1,148.7 130.1,148.8 128.3,146.6 125.6,148.6 124.1,148.6 122.5,148.0 119.6,148.2 117.1,148.2 115.0,148.0 112.3,148.0 110.5,148.3 108.4,148.8 105.5,148.2 102.6,148.8 100.6,148.8 98.6,148.7 97.1,148.5 95.3,148.1 92.3,148.2 90.4,147.0 87.8,148.4 86.1,148.5 82.7,148.0 79.3,148.7 76.2,148.5" fill="#5f0000" />
<ellipse cx="166.0" cy="149.2" rx="0.72" ry="0.70" fill="#120000" />
<ellipse cx="233.8" cy="149.2" rx="1.25" ry="0.70" fill="#120000" />
<ellipse cx="96.4" cy="149.2" rx="0.78" ry="0.70" fill="#120000" />
<ellipse cx="295.8" cy="149.2" rx="1.23" ry="0.70" fill="#120000" />
<ellipse cx="254.4" cy="149.2" rx="0.62" ry="0.70" fill="#120000" />
<ellipse cx="270.1" cy="149.2" rx="1.38" ry="0.70" fill="#120000" />
<ellipse cx="343.3" cy="149.2" rx="1.16" ry="0.70" fill="#120000" />
<ellipse cx="91.2" cy="149.2" rx="1.27" ry="0.70" fill="#120000" />
<ellipse cx="136.4" cy="149.2" rx="1.12" ry="0.70" fill="#120000" />
<ellipse cx="331.0" cy="149.2" rx="1.17" ry="0.70" fill="#120000" />
<ellipse cx="114.0" cy="149.2" rx="0.83" ry="0.70" fill="#120000" />
<ellipse cx="321.9" cy="149.2" rx="0.72" ry="0.70" fill="#120000" />
<ellipse cx="240.3" cy="149.2" rx="0.93" ry="0.70" fill="#120000" />
<ellipse cx="121.0" cy="149.2" rx="1.10" ry="0.70" fill="#120000" />
<ellipse cx="89.8" cy="149.2" rx="0.69" ry="0.70" fill="#120000" />
<ellipse cx="178.9" cy="149.2" rx="0.66" ry="0.70" fill="#120000" />
<ellipse cx="93.5" cy="149.2" rx="1.06" ry="0.70" fill="#120000" />
<ellipse cx="275.3" cy="149.2" rx="1.30" ry="0.70" fill="#120000" />
<ellipse cx="113.9" cy="149.2" rx="0.95" ry="0.70" fill="#120000" />
<ellipse cx="161.8" cy="149.2" rx="1.08" ry="0.70" fill="#120000" />
<ellipse cx="208.2" cy="149.2" rx="1.35" ry="0.70" fill="#120000" />
<ellipse cx="177.6" cy="149.2" rx="0.64" ry="0.70" fill="#120000" />
<ellipse cx="263.3" cy="149.2" rx="0.72" ry="0.70" fill="#120000" />
<ellipse cx="245.8" cy="149.2" rx="1.00" ry="0.70" fill="#120000" />
<ellipse cx="319.9" cy="149.2" rx="1.04" ry="0.70" fill="#120000" />
<ellipse cx="243.1" cy="149.2" rx="0.81" ry="0.70" fill="#120000" />
<ellipse cx="224.7" cy="149.2" rx="0.80" ry="0.70" fill="#120000" />
<ellipse cx="277.5" cy="149.2" rx="1.01" ry="0.70" fill="#120000" />
<ellipse cx="113.8" cy="149.2" rx="0.79" ry="0.70" fill="#120000" />
<ellipse cx="176.8" cy="149.2" rx="1.19" ry="0.70" fill="#120000" />
<ellipse cx="125.8" cy="149.2" rx="1.17" ry="0.70" fill="#120000" />
<ellipse cx="252.1" cy="149.2" rx="0.67" ry="0.70" fill="#120000" />
<ellipse cx="255.6" cy="149.2" rx="0.67" ry="0.70" fill="#120000" />
<ellipse cx="111.4" cy="149.2" rx="1.08" ry="0.70" fill="#120000" />
<ellipse cx="141.6" cy="149.2" rx="1.30" ry="0.70" fill="#120000" />
<ellipse cx="205.8" cy="149.2" rx="0.86" ry="0.70" fill="#120000" />
<ellipse cx="289.7" cy="149.2" rx="0.62" ry="0.70" fill="#120000" />
<ellipse cx="270.7" cy="149.2" rx="0.64" ry="0.70" fill="#120000" />
<ellipse cx="118.3" cy="149.2" rx="1.36" ry="0.70" fill="#120000" />
<ellipse cx="259.1" cy="149.2" rx="0.78" ry="0.70" fill="#120000" />
<ellipse cx="109.1" cy="149.2" rx="1.38" ry="0.70" fill="#120000" />
<ellipse cx="254.8" cy="149.2" rx="1.26" ry="0.70" fill="#120000" />
<ellipse cx="115.3" cy="149.2" rx="1.10" ry="0.70" fill="#120000" />
<ellipse cx="172.3" cy="149.2" rx="0.79" ry="0.70" fill="#120000" />
<ellipse cx="166.7" cy="149.2" rx="1.09" ry="0.70" fill="#120000" />
<ellipse cx="54.2" cy="148.3" rx="1.00" ry="1.00" fill="#120000" />
<ellipse cx="56.5" cy="148.3" rx="1.00" ry="1.00" fill="#120000" />
<ellipse cx="58.8" cy="148.3" rx="1.00" ry="1.00" fill="#120000" />
<ellipse cx="61.1" cy="148.3" rx="1.00" ry="1.00" fill="#120000" />
<ellipse cx="63.4" cy="148.3" rx="1.00" ry="1.00" fill="#120000" />
<ellipse cx="65.7" cy="148.3" rx="1.00" ry="1.00" fill="#120000" />
<rect x="100.2" y="108.9" width="243.5" height="1.2" fill="#7c1a00"/>
<rect x="40.0" y="108.9" width="60.2" height="1.2" fill="#ab1a00"/>
<rect x="40.0" y="108.9" width="0.9" height="52.5" fill="#0f0000"/>
</g>
<ellipse cx="60.2" cy="127.2" rx="3.80" ry="10.60" fill="#747474" stroke="#3a2a9a" stroke-width="0.9" filter="url(#gnoise)"/>
<g filter="url(#hm2)">
<defs><linearGradient id="g17" gradientUnits="userSpaceOnUse" x1="40.0" y1="0.0" x2="343.7" y2="0.0"><stop offset="0.000" stop-color="#f81a00" stop-opacity="1"/><stop offset="0.016" stop-color="#f06600" stop-opacity="1"/><stop offset="0.040" stop-color="#c1ff00" stop-opacity="1"/><stop offset="0.072" stop-color="#b6ff00" stop-opacity="1"/><stop offset="0.148" stop-color="#ade600" stop-opacity="1"/><stop offset="0.230" stop-color="#a4cc00" stop-opacity="1"/><stop offset="0.362" stop-color="#9db200" stop-opacity="1"/><stop offset="0.435" stop-color="#a08000" stop-opacity="1"/><stop offset="0.477" stop-color="#a84c00" stop-opacity="1"/><stop offset="0.599" stop-color="#ab2600" stop-opacity="1"/><stop offset="0.667" stop-color="#ad1a00" stop-opacity="1"/><stop offset="0.731" stop-color="#ad2600" stop-opacity="1"/><stop offset="0.856" stop-color="#ab3300" stop-opacity="1"/><stop offset="0.915" stop-color="#a28000" stop-opacity="1"/><stop offset="1.000" stop-color="#9c9900" stop-opacity="1"/></linearGradient></defs>
<rect x="40.0" y="195.1" width="303.7" height="39.6" fill="url(#g17)"/>
<defs><radialGradient id="g18" gradientUnits="userSpaceOnUse" cx="242.5" cy="213.4" r="20" gradientTransform="translate(242.5 213.4) scale(1 1.3000) translate(-242.5 -213.4)"><stop offset="0" stop-color="#af0000" stop-opacity="1"/><stop offset="0.7" stop-color="#ad0d00" stop-opacity="0.8"/><stop offset="1" stop-color="#ab1a00" stop-opacity="0"/></radialGradient></defs>
<ellipse cx="242.5" cy="213.4" rx="20.00" ry="26.00" fill="url(#g18)" />
<defs><radialGradient id="g19" gradientUnits="userSpaceOnUse" cx="242.5" cy="198.6" r="16" gradientTransform="translate(242.5 198.6) scale(1 0.4375) translate(-242.5 -198.6)"><stop offset="0" stop-color="#d00000" stop-opacity="1"/><stop offset="0.45" stop-color="#c80000" stop-opacity="0.85"/><stop offset="1" stop-color="#b20000" stop-opacity="0"/></radialGradient></defs>
<ellipse cx="242.5" cy="198.6" rx="16.00" ry="7.00" fill="url(#g19)" />
<defs><radialGradient id="g20" gradientUnits="userSpaceOnUse" cx="242.5" cy="201.1" r="9" gradientTransform="translate(242.5 201.1) scale(1 0.6667) translate(-242.5 -201.1)"><stop offset="0" stop-color="#cc0000" stop-opacity="1"/><stop offset="0.5" stop-color="#c50000" stop-opacity="0.9"/><stop offset="1" stop-color="#b60000" stop-opacity="0"/></radialGradient></defs>
<ellipse cx="242.5" cy="201.1" rx="9.00" ry="6.00" fill="url(#g20)" />
<ellipse cx="242.5" cy="211.8" rx="7.40" ry="14.00" fill="#b10000" />
<ellipse cx="242.5" cy="212.8" rx="6.40" ry="12.80" fill="#920000" />
<defs><linearGradient id="g21" gradientUnits="userSpaceOnUse" x1="0.0" y1="205.1" x2="0.0" y2="233.7"><stop offset="0.000" stop-color="#ab1a00" stop-opacity="0"/><stop offset="0.500" stop-color="#b61a00" stop-opacity="0.5"/><stop offset="1.000" stop-color="#bd1a00" stop-opacity="0.9"/></linearGradient></defs>
<polygon points="226.0,231.7 182.5,205.1 182.5,233.7" fill="url(#g21)" />
<defs><radialGradient id="g22" gradientUnits="userSpaceOnUse" cx="256.5" cy="232.7" r="90"><stop offset="0" stop-color="#871a00" stop-opacity="0.5"/><stop offset="0.3" stop-color="#871a00" stop-opacity="1"/><stop offset="0.8" stop-color="#871a00" stop-opacity="1"/><stop offset="1" stop-color="#871a00" stop-opacity="0"/></radialGradient></defs>
<path d="M256.5,233.0L346.5,230.8L346.4,228.4L256.5,232.5ZM256.5,233.0L346.2,225.3L345.9,222.9L256.4,232.5ZM256.5,233.0L345.6,219.9L345.2,217.4L256.4,232.5ZM256.5,233.0L344.5,214.1L343.9,211.5L256.4,232.5ZM256.5,233.0L343.0,208.0L342.2,205.4L256.4,232.5ZM256.6,233.0L341.0,201.8L340.0,199.1L256.4,232.5ZM256.6,233.0L338.4,195.4L337.0,192.6L256.4,232.5ZM256.6,233.0L334.9,188.5L333.2,185.6L256.3,232.5ZM256.6,232.9L330.3,181.3L328.2,178.4L256.3,232.5Z" fill="url(#g22)"/>
<defs><radialGradient id="g23" gradientUnits="userSpaceOnUse" cx="256.5" cy="232.7" r="60"><stop offset="0" stop-color="#921a00" stop-opacity="0.3"/><stop offset="0.3" stop-color="#921a00" stop-opacity="0.6"/><stop offset="0.8" stop-color="#921a00" stop-opacity="0.6"/><stop offset="1" stop-color="#921a00" stop-opacity="0"/></radialGradient></defs>
<path d="M256.6,232.9L302.0,193.6L300.2,191.6L256.3,232.6ZM256.7,232.9L296.8,188.3L294.8,186.6L256.3,232.6ZM256.7,232.9L290.4,183.2L287.9,181.6L256.3,232.6Z" fill="url(#g23)"/>
<defs><radialGradient id="g24" gradientUnits="userSpaceOnUse" cx="228.5" cy="232.7" r="58"><stop offset="0" stop-color="#871a00" stop-opacity="0.5"/><stop offset="0.3" stop-color="#871a00" stop-opacity="1"/><stop offset="0.7" stop-color="#871a00" stop-opacity="1"/><stop offset="1" stop-color="#871a00" stop-opacity="0"/></radialGradient></defs>
<path d="M228.5,232.5L170.5,229.8L170.5,231.6L228.5,233.0ZM228.5,232.5L170.8,226.3L170.6,228.1L228.4,233.0ZM228.5,232.5L171.3,222.8L171.0,224.5L228.4,233.0ZM228.5,232.5L172.1,219.0L171.7,220.8L228.4,233.0ZM228.5,232.5L173.2,215.0L172.7,216.9L228.4,233.0ZM228.6,232.5L174.7,211.0L174.0,212.9L228.4,233.0ZM228.6,232.5L176.6,206.8L175.7,208.7L228.4,233.0ZM228.6,232.5L179.1,202.3L177.9,204.3L228.3,233.0ZM228.6,232.5L182.3,197.6L180.8,199.7L228.3,232.9Z" fill="url(#g24)"/>
<defs><radialGradient id="g25" gradientUnits="userSpaceOnUse" cx="228.5" cy="232.7" r="50"><stop offset="0" stop-color="#921a00" stop-opacity="0.3"/><stop offset="0.3" stop-color="#921a00" stop-opacity="0.6"/><stop offset="0.8" stop-color="#921a00" stop-opacity="0.6"/><stop offset="1" stop-color="#921a00" stop-opacity="0"/></radialGradient></defs>
<path d="M228.6,232.6L192.1,198.4L190.5,200.2L228.3,232.9ZM228.7,232.6L196.5,194.2L194.8,195.8L228.3,232.9ZM228.7,232.6L202.3,190.1L200.1,191.5L228.3,232.9Z" fill="url(#g25)"/>
<polygon points="236.5,211.4 248.5,211.4 258.0,234.2 227.0,234.2" fill="#620d00" />
<polygon points="237.7,213.4 247.3,213.4 255.0,234.2 230.0,234.2" fill="#160000" />
<polyline points="235.0,224.2 242.5,219.2 250.0,224.2" fill="none" stroke="#570000" stroke-width="1.3" />
<polyline points="232.5,228.0 242.5,223.4 252.5,228.0" fill="none" stroke="#570000" stroke-width="1.4" />
<polyline points="230.0,231.6 242.5,227.4 255.0,231.6" fill="none" stroke="#570000" stroke-width="1.4" />
<ellipse cx="242.5" cy="213.7" rx="5.90" ry="12.30" fill="#800000" />
<ellipse cx="242.5" cy="213.6" rx="5.00" ry="11.60" fill="#5b0000" />
<ellipse cx="242.5" cy="213.4" rx="4.30" ry="11.10" fill="#120000" />
<rect x="40.0" y="233.7" width="303.7" height="14.9" fill="#070000"/>
<defs><linearGradient id="g26" gradientUnits="userSpaceOnUse" x1="0.0" y1="233.7" x2="0.0" y2="237.7"><stop offset="0.000" stop-color="#210000" stop-opacity="1"/><stop offset="1.000" stop-color="#070000" stop-opacity="1"/></linearGradient></defs>
<rect x="40.0" y="233.7" width="303.7" height="4" fill="url(#g26)"/>
<polygon points="40.0,233.0 42.9,233.5 44.8,233.0 47.8,232.9 49.7,233.1 52.9,231.9 55.0,233.0 58.1,233.5 61.1,233.6 63.1,233.5 66.1,233.3 68.3,233.2 70.0,233.5 73.5,233.4 76.5,232.9 78.9,233.0 81.4,233.0 84.2,233.2 86.6,233.0 88.5,231.7 91.3,233.6 94.3,232.2 96.1,233.5 98.8,233.0 102.1,233.5 104.0,233.5 106.9,232.9 109.6,233.4 112.3,233.3 114.6,233.4 116.7,233.0 118.4,231.6 121.2,233.3 122.7,233.2 124.4,232.8 126.2,233.1 128.9,232.9 131.1,232.1 133.3,233.2 135.8,233.2 137.9,232.9 141.2,233.4 144.1,233.5 146.8,233.1 148.8,233.0 150.4,231.8 153.4,231.9 156.5,233.0 159.1,233.1 161.5,232.9 163.2,233.5 165.3,231.8 167.0,233.1 170.3,232.2 172.9,232.9 175.0,233.6 176.8,232.8 180.0,233.0 182.2,233.1 184.2,233.4 187.5,233.3 189.9,233.3 193.1,232.2 194.9,233.3 197.4,233.1 199.5,231.5 201.1,232.0 204.0,233.5 207.2,233.2 210.3,233.4 213.3,232.9 216.8,233.2 219.9,231.8 221.5,233.0 224.8,233.0 228.0,233.2 231.1,233.2 233.5,233.6 235.4,233.1 237.3,231.9 240.4,231.6 243.1,233.1 245.6,233.3 247.5,233.4 249.9,232.2 253.1,233.0 254.9,232.9 258.2,233.0 261.0,233.0 262.5,233.2 264.7,231.6 267.6,233.2 270.5,232.9 273.9,233.5 276.8,233.4 279.4,233.0 282.4,231.9 285.2,233.3 288.2,233.5 291.4,233.2 293.7,233.6 297.1,233.1 300.4,233.4 302.1,233.2 305.2,233.5 307.6,233.2 310.6,232.9 312.4,233.1 315.8,233.0 317.9,233.0 319.6,232.9 321.2,233.1 323.0,232.9 324.6,233.0 327.9,233.4 330.8,233.5 332.6,232.9 335.2,233.3 337.0,233.4 339.4,233.0 342.0,233.3 344.1,232.0 344.1,233.4 342.0,235.0 339.4,234.8 337.0,234.8 335.2,235.0 332.6,234.3 330.8,234.9 327.9,234.7 324.6,234.5 323.0,234.2 321.2,234.8 319.6,234.5 317.9,234.5 315.8,234.7 312.4,234.5 310.6,234.4 307.6,234.7 305.2,234.8 302.1,235.0 300.4,234.7 297.1,234.5 293.7,235.3 291.4,234.9 288.2,235.1 285.2,234.8 282.4,233.3 279.4,234.3 276.8,235.0 273.9,234.9 270.5,234.3 267.6,234.9 264.7,232.9 262.5,234.7 261.0,234.7 258.2,234.7 254.9,234.2 253.1,234.6 249.9,233.8 247.5,235.1 245.6,235.0 243.1,234.8 240.4,233.2 237.3,233.6 235.4,234.7 233.5,235.1 231.1,234.9 228.0,234.8 224.8,234.5 221.5,234.4 219.9,233.5 216.8,234.7 213.3,234.4 210.3,234.9 207.2,234.8 204.0,235.0 201.1,233.7 199.5,233.1 197.4,234.7 194.9,235.0 193.1,233.7 189.9,234.9 187.5,234.9 184.2,235.1 182.2,234.8 180.0,234.7 176.8,234.4 175.0,235.1 172.9,234.3 170.3,233.7 167.0,234.6 165.3,233.3 163.2,235.2 161.5,234.3 159.1,234.6 156.5,234.7 153.4,233.4 150.4,233.5 148.8,234.4 146.8,234.8 144.1,235.0 141.2,235.0 137.9,234.2 135.8,234.7 133.3,234.9 131.1,233.8 128.9,234.5 126.2,234.6 124.4,234.2 122.7,234.8 121.2,234.8 118.4,233.3 116.7,234.6 114.6,234.9 112.3,235.0 109.6,234.8 106.9,234.7 104.0,234.9 102.1,235.3 98.8,234.6 96.1,235.0 94.3,234.0 91.3,235.2 88.5,233.3 86.6,234.4 84.2,234.9 81.4,234.7 78.9,234.4 76.5,234.3 73.5,234.9 70.0,235.3 68.3,234.9 66.1,234.8 63.1,234.8 61.1,235.3 58.1,234.9 55.0,234.6 52.9,233.5 49.7,234.9 47.8,234.3 44.8,234.7 42.9,235.2 40.0,234.4" fill="#5f0000" />
<ellipse cx="211.7" cy="235.3" rx="0.84" ry="0.60" fill="#330000" />
<ellipse cx="251.2" cy="235.3" rx="1.37" ry="0.60" fill="#330000" />
<ellipse cx="242.3" cy="235.3" rx="1.00" ry="0.60" fill="#330000" />
<ellipse cx="223.4" cy="235.3" rx="0.80" ry="0.60" fill="#330000" />
<ellipse cx="182.0" cy="235.3" rx="0.69" ry="0.60" fill="#330000" />
<ellipse cx="258.8" cy="235.3" rx="0.65" ry="0.60" fill="#330000" />
<ellipse cx="200.0" cy="235.3" rx="0.74" ry="0.60" fill="#330000" />
<ellipse cx="211.0" cy="235.3" rx="0.65" ry="0.60" fill="#330000" />
<ellipse cx="48.3" cy="235.3" rx="1.10" ry="0.60" fill="#330000" />
<ellipse cx="258.5" cy="235.3" rx="1.31" ry="0.60" fill="#330000" />
<ellipse cx="245.7" cy="235.3" rx="1.40" ry="0.60" fill="#330000" />
<ellipse cx="83.3" cy="235.3" rx="1.10" ry="0.60" fill="#330000" />
<ellipse cx="233.2" cy="235.3" rx="0.74" ry="0.60" fill="#330000" />
<ellipse cx="82.5" cy="235.3" rx="0.79" ry="0.60" fill="#330000" />
<ellipse cx="198.9" cy="235.3" rx="1.23" ry="0.60" fill="#330000" />
<ellipse cx="255.9" cy="235.3" rx="1.06" ry="0.60" fill="#330000" />
<ellipse cx="63.5" cy="235.3" rx="1.18" ry="0.60" fill="#330000" />
<ellipse cx="195.6" cy="235.3" rx="0.74" ry="0.60" fill="#330000" />
<ellipse cx="227.8" cy="235.3" rx="0.80" ry="0.60" fill="#330000" />
<ellipse cx="133.8" cy="235.3" rx="0.96" ry="0.60" fill="#330000" />
<ellipse cx="268.2" cy="235.3" rx="0.69" ry="0.60" fill="#330000" />
<ellipse cx="174.4" cy="235.3" rx="0.79" ry="0.60" fill="#330000" />
<ellipse cx="243.8" cy="235.3" rx="1.25" ry="0.60" fill="#330000" />
<ellipse cx="120.2" cy="235.3" rx="1.18" ry="0.60" fill="#330000" />
<ellipse cx="180.9" cy="235.3" rx="0.77" ry="0.60" fill="#330000" />
<ellipse cx="123.7" cy="235.3" rx="1.03" ry="0.60" fill="#330000" />
<ellipse cx="285.0" cy="235.3" rx="1.08" ry="0.60" fill="#330000" />
<ellipse cx="40.2" cy="235.3" rx="1.23" ry="0.60" fill="#330000" />
<ellipse cx="216.2" cy="235.3" rx="0.94" ry="0.60" fill="#330000" />
<ellipse cx="113.2" cy="235.3" rx="0.95" ry="0.60" fill="#330000" />
<ellipse cx="250.2" cy="235.3" rx="0.82" ry="0.60" fill="#330000" />
<ellipse cx="82.0" cy="235.3" rx="1.30" ry="0.60" fill="#330000" />
<ellipse cx="174.3" cy="235.3" rx="0.66" ry="0.60" fill="#330000" />
<ellipse cx="310.5" cy="235.3" rx="0.69" ry="0.60" fill="#330000" />
<ellipse cx="150.8" cy="235.3" rx="1.10" ry="0.60" fill="#330000" />
<ellipse cx="241.7" cy="235.3" rx="1.32" ry="0.60" fill="#330000" />
<ellipse cx="93.4" cy="235.3" rx="1.06" ry="0.60" fill="#330000" />
<ellipse cx="307.1" cy="235.3" rx="0.97" ry="0.60" fill="#330000" />
<ellipse cx="257.0" cy="235.3" rx="0.97" ry="0.60" fill="#330000" />
<ellipse cx="257.6" cy="235.3" rx="1.37" ry="0.60" fill="#330000" />
<ellipse cx="143.2" cy="235.3" rx="1.19" ry="0.60" fill="#330000" />
<ellipse cx="144.7" cy="235.3" rx="1.31" ry="0.60" fill="#330000" />
<ellipse cx="272.0" cy="235.3" rx="1.29" ry="0.60" fill="#330000" />
<ellipse cx="305.4" cy="235.3" rx="1.08" ry="0.60" fill="#330000" />
<ellipse cx="328.7" cy="235.3" rx="0.72" ry="0.60" fill="#330000" />
<ellipse cx="214.3" cy="235.3" rx="0.66" ry="0.60" fill="#330000" />
<ellipse cx="217.1" cy="235.3" rx="1.15" ry="0.60" fill="#330000" />
<ellipse cx="126.6" cy="235.3" rx="1.25" ry="0.60" fill="#330000" />
<ellipse cx="166.8" cy="235.3" rx="0.76" ry="0.60" fill="#330000" />
<ellipse cx="98.7" cy="235.3" rx="1.06" ry="0.60" fill="#330000" />
<defs><linearGradient id="g27" gradientUnits="userSpaceOnUse" x1="40.0" y1="233.7" x2="49.0" y2="247.6"><stop offset="0.000" stop-color="#570000" stop-opacity="1"/><stop offset="1.000" stop-color="#0f0000" stop-opacity="1"/></linearGradient></defs>
<polygon points="40.0,233.7 49.0,233.7 42.0,247.6 40.0,247.6" fill="url(#g27)" />
<rect x="40.0" y="195.1" width="303.7" height="1.2" fill="#7c1a00"/>
<rect x="40.0" y="195.1" width="0.9" height="52.5" fill="#0f0000"/>
</g>
<ellipse cx="242.5" cy="213.4" rx="3.80" ry="10.60" fill="#747474" stroke="#3a2a9a" stroke-width="0.9" filter="url(#gnoise)"/>
<line x1="34.5" y1="22.6" x2="40.0" y2="22.6" stroke="#505050" stroke-width="0.6"/>
<text x="31.2" y="26.0" font-size="9" text-anchor="end" fill="#222">0</text>
<line x1="34.5" y1="48.85" x2="40.0" y2="48.85" stroke="#505050" stroke-width="0.6"/>
<text x="31.2" y="52.25" font-size="9" text-anchor="end" fill="#222">50</text>
<line x1="34.5" y1="75.1" x2="40.0" y2="75.1" stroke="#505050" stroke-width="0.6"/>
<text x="31.2" y="78.5" font-size="9" text-anchor="end" fill="#222">100</text>
<line x1="40.0" y1="75.1" x2="40.0" y2="81.6" stroke="#505050" stroke-width="0.6"/>
<text x="40.0" y="92.5" font-size="9" text-anchor="middle" fill="#222">0</text>
<line x1="60.24666666666667" y1="75.1" x2="60.24666666666667" y2="78.6" stroke="#505050" stroke-width="0.6"/>
<line x1="80.49333333333334" y1="75.1" x2="80.49333333333334" y2="78.6" stroke="#505050" stroke-width="0.6"/>
<line x1="100.74000000000001" y1="75.1" x2="100.74000000000001" y2="78.6" stroke="#505050" stroke-width="0.6"/>
<line x1="120.98666666666666" y1="75.1" x2="120.98666666666666" y2="78.6" stroke="#505050" stroke-width="0.6"/>
<line x1="141.23333333333335" y1="75.1" x2="141.23333333333335" y2="81.6" stroke="#505050" stroke-width="0.6"/>
<text x="141.23333333333335" y="92.5" font-size="9" text-anchor="middle" fill="#222">500</text>
<line x1="161.48000000000002" y1="75.1" x2="161.48000000000002" y2="78.6" stroke="#505050" stroke-width="0.6"/>
<line x1="181.72666666666666" y1="75.1" x2="181.72666666666666" y2="78.6" stroke="#505050" stroke-width="0.6"/>
<line x1="201.97333333333333" y1="75.1" x2="201.97333333333333" y2="78.6" stroke="#505050" stroke-width="0.6"/>
<line x1="222.22" y1="75.1" x2="222.22" y2="78.6" stroke="#505050" stroke-width="0.6"/>
<line x1="242.46666666666667" y1="75.1" x2="242.46666666666667" y2="81.6" stroke="#505050" stroke-width="0.6"/>
<text x="242.46666666666667" y="92.5" font-size="9" text-anchor="middle" fill="#222">1000</text>
<line x1="262.71333333333337" y1="75.1" x2="262.71333333333337" y2="78.6" stroke="#505050" stroke-width="0.6"/>
<line x1="282.96000000000004" y1="75.1" x2="282.96000000000004" y2="78.6" stroke="#505050" stroke-width="0.6"/>
<line x1="303.20666666666665" y1="75.1" x2="303.20666666666665" y2="78.6" stroke="#505050" stroke-width="0.6"/>
<line x1="323.4533333333333" y1="75.1" x2="323.4533333333333" y2="78.6" stroke="#505050" stroke-width="0.6"/>
<line x1="343.7" y1="75.1" x2="343.7" y2="81.6" stroke="#505050" stroke-width="0.6"/>
<text x="343.7" y="92.5" font-size="9" text-anchor="middle" fill="#222">1500</text>
<text x="192.1" y="15.400000000000002" font-size="8.7" font-weight="bold" fill="#000" text-anchor="middle">r<tspan font-size="6.2" dy="2.3">s</tspan><tspan dy="-2.3"> = 500 m</tspan></text>
<rect x="356.8" y="22.6" width="8.1" height="52.9" fill="url(#cb)" stroke="#555" stroke-width="0.35"/>
<text x="367.3" y="70.5" font-size="8.7" fill="#222">20</text>
<text x="367.3" y="55.5" font-size="8.7" fill="#222">40</text>
<text x="367.3" y="40.5" font-size="8.7" fill="#222">60</text>
<text x="367.3" y="25.5" font-size="8.7" fill="#222">80</text>
<text x="355.2" y="17.700000000000003" font-size="8.4" fill="#222">dB</text>
<line x1="34.5" y1="108.9" x2="40.0" y2="108.9" stroke="#505050" stroke-width="0.6"/>
<text x="31.2" y="112.30000000000001" font-size="9" text-anchor="end" fill="#222">0</text>
<line x1="34.5" y1="135.15" x2="40.0" y2="135.15" stroke="#505050" stroke-width="0.6"/>
<text x="31.2" y="138.55" font-size="9" text-anchor="end" fill="#222">50</text>
<line x1="34.5" y1="161.4" x2="40.0" y2="161.4" stroke="#505050" stroke-width="0.6"/>
<text x="31.2" y="164.8" font-size="9" text-anchor="end" fill="#222">100</text>
<line x1="40.0" y1="161.4" x2="40.0" y2="167.9" stroke="#505050" stroke-width="0.6"/>
<text x="40.0" y="178.8" font-size="9" text-anchor="middle" fill="#222">0</text>
<line x1="60.24666666666667" y1="161.4" x2="60.24666666666667" y2="164.9" stroke="#505050" stroke-width="0.6"/>
<line x1="80.49333333333334" y1="161.4" x2="80.49333333333334" y2="164.9" stroke="#505050" stroke-width="0.6"/>
<line x1="100.74000000000001" y1="161.4" x2="100.74000000000001" y2="164.9" stroke="#505050" stroke-width="0.6"/>
<line x1="120.98666666666666" y1="161.4" x2="120.98666666666666" y2="164.9" stroke="#505050" stroke-width="0.6"/>
<line x1="141.23333333333335" y1="161.4" x2="141.23333333333335" y2="167.9" stroke="#505050" stroke-width="0.6"/>
<text x="141.23333333333335" y="178.8" font-size="9" text-anchor="middle" fill="#222">500</text>
<line x1="161.48000000000002" y1="161.4" x2="161.48000000000002" y2="164.9" stroke="#505050" stroke-width="0.6"/>
<line x1="181.72666666666666" y1="161.4" x2="181.72666666666666" y2="164.9" stroke="#505050" stroke-width="0.6"/>
<line x1="201.97333333333333" y1="161.4" x2="201.97333333333333" y2="164.9" stroke="#505050" stroke-width="0.6"/>
<line x1="222.22" y1="161.4" x2="222.22" y2="164.9" stroke="#505050" stroke-width="0.6"/>
<line x1="242.46666666666667" y1="161.4" x2="242.46666666666667" y2="167.9" stroke="#505050" stroke-width="0.6"/>
<text x="242.46666666666667" y="178.8" font-size="9" text-anchor="middle" fill="#222">1000</text>
<line x1="262.71333333333337" y1="161.4" x2="262.71333333333337" y2="164.9" stroke="#505050" stroke-width="0.6"/>
<line x1="282.96000000000004" y1="161.4" x2="282.96000000000004" y2="164.9" stroke="#505050" stroke-width="0.6"/>
<line x1="303.20666666666665" y1="161.4" x2="303.20666666666665" y2="164.9" stroke="#505050" stroke-width="0.6"/>
<line x1="323.4533333333333" y1="161.4" x2="323.4533333333333" y2="164.9" stroke="#505050" stroke-width="0.6"/>
<line x1="343.7" y1="161.4" x2="343.7" y2="167.9" stroke="#505050" stroke-width="0.6"/>
<text x="343.7" y="178.8" font-size="9" text-anchor="middle" fill="#222">1500</text>
<text x="192.1" y="101.7" font-size="8.7" font-weight="bold" fill="#000" text-anchor="middle">r<tspan font-size="6.2" dy="2.3">s</tspan><tspan dy="-2.3"> = 100 m</tspan></text>
<rect x="356.8" y="108.9" width="8.1" height="52.9" fill="url(#cb)" stroke="#555" stroke-width="0.35"/>
<text x="367.3" y="156.8" font-size="8.7" fill="#222">20</text>
<text x="367.3" y="141.8" font-size="8.7" fill="#222">40</text>
<text x="367.3" y="126.80000000000001" font-size="8.7" fill="#222">60</text>
<text x="367.3" y="111.80000000000001" font-size="8.7" fill="#222">80</text>
<text x="355.2" y="104.0" font-size="8.4" fill="#222">dB</text>
<line x1="34.5" y1="195.1" x2="40.0" y2="195.1" stroke="#505050" stroke-width="0.6"/>
<text x="31.2" y="198.5" font-size="9" text-anchor="end" fill="#222">0</text>
<line x1="34.5" y1="221.35" x2="40.0" y2="221.35" stroke="#505050" stroke-width="0.6"/>
<text x="31.2" y="224.75" font-size="9" text-anchor="end" fill="#222">50</text>
<line x1="34.5" y1="247.6" x2="40.0" y2="247.6" stroke="#505050" stroke-width="0.6"/>
<text x="31.2" y="251.0" font-size="9" text-anchor="end" fill="#222">100</text>
<line x1="40.0" y1="247.6" x2="40.0" y2="254.1" stroke="#505050" stroke-width="0.6"/>
<text x="40.0" y="265.0" font-size="9" text-anchor="middle" fill="#222">0</text>
<line x1="60.24666666666667" y1="247.6" x2="60.24666666666667" y2="251.1" stroke="#505050" stroke-width="0.6"/>
<line x1="80.49333333333334" y1="247.6" x2="80.49333333333334" y2="251.1" stroke="#505050" stroke-width="0.6"/>
<line x1="100.74000000000001" y1="247.6" x2="100.74000000000001" y2="251.1" stroke="#505050" stroke-width="0.6"/>
<line x1="120.98666666666666" y1="247.6" x2="120.98666666666666" y2="251.1" stroke="#505050" stroke-width="0.6"/>
<line x1="141.23333333333335" y1="247.6" x2="141.23333333333335" y2="254.1" stroke="#505050" stroke-width="0.6"/>
<text x="141.23333333333335" y="265.0" font-size="9" text-anchor="middle" fill="#222">500</text>
<line x1="161.48000000000002" y1="247.6" x2="161.48000000000002" y2="251.1" stroke="#505050" stroke-width="0.6"/>
<line x1="181.72666666666666" y1="247.6" x2="181.72666666666666" y2="251.1" stroke="#505050" stroke-width="0.6"/>
<line x1="201.97333333333333" y1="247.6" x2="201.97333333333333" y2="251.1" stroke="#505050" stroke-width="0.6"/>
<line x1="222.22" y1="247.6" x2="222.22" y2="251.1" stroke="#505050" stroke-width="0.6"/>
<line x1="242.46666666666667" y1="247.6" x2="242.46666666666667" y2="254.1" stroke="#505050" stroke-width="0.6"/>
<text x="242.46666666666667" y="265.0" font-size="9" text-anchor="middle" fill="#222">1000</text>
<line x1="262.71333333333337" y1="247.6" x2="262.71333333333337" y2="251.1" stroke="#505050" stroke-width="0.6"/>
<line x1="282.96000000000004" y1="247.6" x2="282.96000000000004" y2="251.1" stroke="#505050" stroke-width="0.6"/>
<line x1="303.20666666666665" y1="247.6" x2="303.20666666666665" y2="251.1" stroke="#505050" stroke-width="0.6"/>
<line x1="323.4533333333333" y1="247.6" x2="323.4533333333333" y2="251.1" stroke="#505050" stroke-width="0.6"/>
<line x1="343.7" y1="247.6" x2="343.7" y2="254.1" stroke="#505050" stroke-width="0.6"/>
<text x="343.7" y="265.0" font-size="9" text-anchor="middle" fill="#222">1500</text>
<text x="192.1" y="187.9" font-size="8.7" font-weight="bold" fill="#000" text-anchor="middle">r<tspan font-size="6.2" dy="2.3">s</tspan><tspan dy="-2.3"> = 1000 m</tspan></text>
<rect x="356.8" y="195.1" width="8.1" height="52.9" fill="url(#cb)" stroke="#555" stroke-width="0.35"/>
<text x="367.3" y="243.0" font-size="8.7" fill="#222">20</text>
<text x="367.3" y="228.0" font-size="8.7" fill="#222">40</text>
<text x="367.3" y="213.0" font-size="8.7" fill="#222">60</text>
<text x="367.3" y="198.0" font-size="8.7" fill="#222">80</text>
<text x="355.2" y="190.2" font-size="8.4" fill="#222">dB</text>
<text x="16.2" y="134.8" font-size="8.8" fill="#222" text-anchor="middle" transform="rotate(-90 16.2 134.8)">Depth (m)</text>
<text x="192" y="275" font-size="9" fill="#222" text-anchor="middle">Range (m)</text>
<text x="0" y="12.1" font-size="16.5" fill="#000">a)</text>
<text x="399.7" y="11.6" font-size="16" fill="#000">b)</text>
<line x1="438.3" y1="74.24000000000001" x2="534.4" y2="74.24000000000001" stroke="#e6e6e6" stroke-width="0.6"/>
<line x1="438.3" y1="112.08000000000001" x2="534.4" y2="112.08000000000001" stroke="#e6e6e6" stroke-width="0.6"/>
<line x1="438.3" y1="149.92" x2="534.4" y2="149.92" stroke="#e6e6e6" stroke-width="0.6"/>
<line x1="438.3" y1="187.76000000000002" x2="534.4" y2="187.76000000000002" stroke="#e6e6e6" stroke-width="0.6"/>
<line x1="486.35" y1="36.4" x2="486.35" y2="225.6" stroke="#e6e6e6" stroke-width="0.6"/>
<rect x="438.3" y="36.4" width="96.09999999999997" height="189.2" fill="none" stroke="#d8d8d8" stroke-width="0.6"/>
<line x1="580.4" y1="74.24000000000001" x2="676.9" y2="74.24000000000001" stroke="#e6e6e6" stroke-width="0.6"/>
<line x1="580.4" y1="112.08000000000001" x2="676.9" y2="112.08000000000001" stroke="#e6e6e6" stroke-width="0.6"/>
<line x1="580.4" y1="149.92" x2="676.9" y2="149.92" stroke="#e6e6e6" stroke-width="0.6"/>
<line x1="580.4" y1="187.76000000000002" x2="676.9" y2="187.76000000000002" stroke="#e6e6e6" stroke-width="0.6"/>
<line x1="628.65" y1="36.4" x2="628.65" y2="225.6" stroke="#e6e6e6" stroke-width="0.6"/>
<rect x="580.4" y="36.4" width="96.5" height="189.2" fill="none" stroke="#d8d8d8" stroke-width="0.6"/>
<g fill="none" stroke-width="1.25" stroke-linejoin="round" stroke-linecap="round">
<path d="M438.40,36.40 C441.60,37.53 450.82,41.00 457.60,43.20 C464.38,45.40 474.37,48.17 479.10,49.60 C483.83,51.03 483.05,50.98 486.00,51.80 C488.95,52.62 493.20,53.23 496.80,54.50 C500.40,55.77 505.07,58.15 507.60,59.40 C510.13,60.65 510.75,61.23 512.00,62.00 C513.25,62.77 513.13,62.92 515.10,64.00 C517.07,65.08 521.65,67.03 523.80,68.50 C525.95,69.97 527.20,71.37 528.00,72.80 C528.80,74.23 527.68,75.40 528.60,77.10 C529.52,78.80 533.05,81.20 533.50,83.00 C533.95,84.80 532.22,86.40 531.30,87.90 C530.38,89.40 528.37,90.75 528.00,92.00 C527.63,93.25 529.98,94.12 529.10,95.40 C528.22,96.68 524.48,98.43 522.70,99.70 C520.92,100.97 519.30,101.73 518.40,103.00 C517.50,104.27 519.10,105.68 517.30,107.30 C515.50,108.92 510.22,111.27 507.60,112.70 C504.98,114.13 502.32,114.85 501.60,115.90 C500.88,116.95 503.23,118.15 503.30,119.00 C503.37,119.85 503.08,120.27 502.00,121.00 C500.92,121.73 498.90,122.48 496.80,123.40 C494.70,124.32 491.12,125.63 489.40,126.50 C487.68,127.37 486.73,127.88 486.50,128.60 C486.27,129.32 488.23,129.95 488.00,130.80 C487.77,131.65 486.78,132.75 485.10,133.70 C483.42,134.65 480.07,135.67 477.90,136.50 C475.73,137.33 472.33,137.97 472.10,138.70 C471.87,139.43 475.18,139.93 476.50,140.90 C477.82,141.87 480.48,143.43 480.00,144.50 C479.52,145.57 476.83,146.47 473.60,147.30 C470.37,148.13 463.00,148.77 460.60,149.50 C458.20,150.23 458.23,150.98 459.20,151.70 C460.17,152.42 464.12,153.20 466.40,153.80 C468.68,154.40 472.90,154.70 472.90,155.30 C472.90,155.90 469.17,156.68 466.40,157.40 C463.63,158.12 459.37,158.83 456.30,159.60 C453.23,160.37 447.72,161.18 448.00,162.00 C448.28,162.82 454.23,163.63 458.00,164.50 C461.77,165.37 470.67,166.25 470.60,167.20 C470.53,168.15 461.63,169.20 457.60,170.20 C453.57,171.20 449.00,172.12 446.40,173.20 C443.80,174.28 443.08,175.40 442.00,176.70 C440.92,178.00 440.15,179.45 439.90,181.00 C439.65,182.55 440.33,184.47 440.50,186.00 C440.67,187.53 441.02,188.60 440.90,190.20 C440.78,191.80 439.80,193.63 439.80,195.60 C439.80,197.57 441.00,200.10 440.90,202.00 C440.80,203.90 439.48,205.50 439.20,207.00 C438.92,208.50 439.02,209.28 439.20,211.00 C439.38,212.72 440.02,214.87 440.30,217.30 C440.58,219.73 440.80,224.22 440.90,225.60" stroke="#0072bd"/>
<path d="M438.40,36.40 C446.67,37.08 476.47,39.47 488.00,40.50 C499.53,41.53 501.73,41.67 507.60,42.60 C513.47,43.53 523.20,44.83 523.20,46.10 C523.20,47.37 513.80,48.72 507.60,50.20 C501.40,51.68 494.70,53.30 486.00,55.00 C477.30,56.70 459.73,59.18 455.40,60.40 C451.07,61.62 457.57,61.62 460.00,62.30 C462.43,62.98 465.33,63.65 470.00,64.50 C474.67,65.35 483.08,66.02 488.00,67.40 C492.92,68.78 499.83,70.77 499.50,72.80 C499.17,74.83 492.45,77.53 486.00,79.60 C479.55,81.67 463.73,83.90 460.80,85.20 C457.87,86.50 463.87,86.60 468.40,87.40 C472.93,88.20 481.47,89.20 488.00,90.00 C494.53,90.80 500.20,90.93 507.60,92.20 C515.00,93.47 531.50,96.08 532.40,97.60 C533.30,99.12 518.93,100.23 513.00,101.30 C507.07,102.37 501.03,103.10 496.80,104.00 C492.57,104.90 488.32,105.80 487.60,106.70 C486.88,107.60 489.72,108.32 492.50,109.40 C495.28,110.48 503.58,112.03 504.30,113.20 C505.02,114.37 499.85,115.42 496.80,116.40 C493.75,117.38 489.87,118.50 486.00,119.10 C482.13,119.70 477.83,119.48 473.60,120.00 C469.37,120.52 463.48,121.37 460.60,122.20 C457.72,123.03 455.33,124.05 456.30,125.00 C457.27,125.95 464.00,126.93 466.40,127.90 C468.80,128.87 470.10,129.72 470.70,130.80 C471.30,131.88 469.52,133.32 470.00,134.40 C470.48,135.48 470.60,136.47 473.60,137.30 C476.60,138.13 482.33,138.75 488.00,139.40 C493.67,140.05 501.10,140.37 507.60,141.20 C514.10,142.03 522.68,143.42 527.00,144.40 C531.32,145.38 534.93,146.12 533.50,147.10 C532.07,148.08 524.52,149.13 518.40,150.30 C512.28,151.47 502.20,152.98 496.80,154.10 C491.40,155.22 486.00,155.92 486.00,157.00 C486.00,158.08 493.92,159.47 496.80,160.60 C499.68,161.73 503.30,162.90 503.30,163.80 C503.30,164.70 499.68,165.28 496.80,166.00 C493.92,166.72 489.47,167.47 486.00,168.10 C482.53,168.73 480.02,169.30 476.00,169.80 C471.98,170.30 466.40,170.53 461.90,171.10 C457.40,171.67 452.17,172.42 449.00,173.20 C445.83,173.98 444.42,174.78 442.90,175.80 C441.38,176.82 440.62,178.15 439.90,179.30 C439.18,180.45 438.85,181.58 438.60,182.70 C438.35,183.82 438.43,178.85 438.40,186.00 C438.37,193.15 438.40,219.00 438.40,225.60" stroke="#d95319"/>
<path d="M438.40,36.40 C441.60,37.25 450.83,40.02 457.60,41.50 C464.37,42.98 474.33,44.12 479.00,45.30 C483.67,46.48 485.60,47.60 485.60,48.60 C485.60,49.60 481.07,50.32 479.00,51.30 C476.93,52.28 473.20,53.70 473.20,54.50 C473.20,55.30 476.87,55.72 479.00,56.10 C481.13,56.48 481.23,56.17 486.00,56.80 C490.77,57.43 501.30,59.03 507.60,59.90 C513.90,60.77 519.67,61.37 523.80,62.00 C527.93,62.63 530.62,63.17 532.40,63.70 C534.18,64.23 535.93,64.37 534.50,65.20 C533.07,66.03 530.08,67.58 523.80,68.70 C517.52,69.82 503.10,71.22 496.80,71.90 C490.50,72.58 494.52,71.75 486.00,72.80 C477.48,73.85 450.43,76.85 445.70,78.20 C440.97,79.55 454.00,80.00 457.60,80.90 C461.20,81.80 465.15,82.62 467.30,83.60 C469.45,84.58 469.72,85.73 470.50,86.80 C471.28,87.87 471.45,89.10 472.00,90.00 C472.55,90.90 471.47,91.27 473.80,92.20 C476.13,93.13 481.27,94.35 486.00,95.60 C490.73,96.85 497.70,98.30 502.20,99.70 C506.70,101.10 513.00,102.65 513.00,104.00 C513.00,105.35 506.70,106.63 502.20,107.80 C497.70,108.97 494.70,109.65 486.00,111.00 C477.30,112.35 455.10,114.80 450.00,115.90 C444.90,117.00 452.33,117.00 455.40,117.60 C458.47,118.20 462.97,118.63 468.40,119.50 C473.83,120.37 484.27,121.78 488.00,122.80 C491.73,123.82 491.13,124.70 490.80,125.60 C490.47,126.50 488.87,127.33 486.00,128.20 C483.13,129.07 478.55,129.65 473.60,130.80 C468.65,131.95 456.30,133.78 456.30,135.10 C456.30,136.42 468.80,137.62 473.60,138.70 C478.40,139.78 482.47,140.63 485.10,141.60 C487.73,142.57 490.12,143.42 489.40,144.50 C488.68,145.58 484.15,147.15 480.80,148.10 C477.45,149.05 469.30,149.48 469.30,150.20 C469.30,150.92 476.35,151.55 480.80,152.40 C485.25,153.25 491.53,154.48 496.00,155.30 C500.47,156.12 503.15,156.25 507.60,157.30 C512.05,158.35 522.70,160.15 522.70,161.60 C522.70,163.05 513.72,164.82 507.60,166.00 C501.48,167.18 491.27,168.07 486.00,168.70 C480.73,169.33 480.02,169.40 476.00,169.80 C471.98,170.20 466.40,170.53 461.90,171.10 C457.40,171.67 452.17,172.42 449.00,173.20 C445.83,173.98 444.42,174.78 442.90,175.80 C441.38,176.82 440.62,178.15 439.90,179.30 C439.18,180.45 438.85,181.58 438.60,182.70 C438.35,183.82 438.43,178.85 438.40,186.00 C438.37,193.15 438.40,219.00 438.40,225.60" stroke="#edb120"/>
</g>
<g fill="none" stroke-width="1.25" stroke-linejoin="round" stroke-linecap="round">
<path d="M644.30,36.60 C644.58,37.98 645.27,42.43 646.00,44.90 C646.73,47.37 647.72,49.42 648.70,51.40 C649.68,53.38 650.85,55.12 651.90,56.80 C652.95,58.48 653.38,59.70 655.00,61.50 C656.62,63.30 659.60,65.78 661.60,67.60 C663.60,69.42 665.25,70.82 667.00,72.40 C668.75,73.98 671.25,76.32 672.10,77.10 L585.20,77.20 C586.70,78.28 591.48,81.82 594.20,83.70 C596.92,85.58 598.80,86.88 601.50,88.50 C604.20,90.12 607.12,91.68 610.40,93.40 C613.68,95.12 617.93,97.20 621.20,98.80 C624.47,100.40 627.40,101.83 630.00,103.00 C632.60,104.17 633.87,104.52 636.80,105.80 C639.73,107.08 644.00,109.17 647.60,110.70 C651.20,112.23 655.70,113.93 658.40,115.00 C661.10,116.07 661.52,116.17 663.80,117.10 C666.08,118.03 670.72,120.02 672.10,120.60 L585.20,120.90 C587.60,121.88 594.50,125.02 599.60,126.80 C604.70,128.58 611.40,130.17 615.80,131.60 C620.20,133.03 622.47,134.22 626.00,135.40 C629.53,136.58 633.50,137.65 637.00,138.70 C640.50,139.75 644.00,140.72 647.00,141.70 C650.00,142.68 652.50,143.58 655.00,144.60 C657.50,145.62 659.15,146.92 662.00,147.80 C664.85,148.68 670.42,149.55 672.10,149.90 L585.20,149.90 C587.60,150.35 595.77,151.43 599.60,152.60 C603.43,153.77 605.87,155.63 608.20,156.90 C610.53,158.17 609.97,159.38 613.60,160.20 C617.23,161.02 625.23,161.27 630.00,161.80 C634.77,162.33 639.45,162.58 642.20,163.40 C644.95,164.22 645.20,165.18 646.50,166.70 C647.80,168.22 648.75,170.72 650.00,172.50 C651.25,174.28 652.25,175.68 654.00,177.40 C655.75,179.12 658.33,181.00 660.50,182.80 C662.67,184.60 665.12,186.40 667.00,188.20 C668.88,190.00 671.27,191.98 671.80,193.60 C672.33,195.22 670.92,196.58 670.20,197.90 C669.48,199.22 668.40,200.25 667.50,201.50 C666.60,202.75 665.33,204.12 664.80,205.40 C664.27,206.68 663.75,208.12 664.30,209.20 C664.85,210.28 666.80,211.18 668.10,211.90 C669.40,212.62 671.43,213.23 672.10,213.50 L585.20,213.50 C586.33,213.85 590.32,214.70 592.00,215.60 C593.68,216.50 594.93,217.90 595.30,218.90 C595.67,219.90 594.83,220.48 594.20,221.60 C593.57,222.72 591.95,224.93 591.50,225.60" stroke="#0072bd"/>
<path d="M630.30,36.60 L672.10,36.60 L672.10,36.70 C672.12,37.18 672.70,38.05 672.20,39.60 C671.70,41.15 670.68,44.03 669.10,46.00 C667.52,47.97 665.57,49.42 662.70,51.40 C659.83,53.38 655.68,56.38 651.90,57.90 C648.12,59.42 643.65,59.85 640.00,60.50 C636.35,61.15 632.78,60.98 630.00,61.80 C627.22,62.62 624.60,64.35 623.30,65.40 C622.00,66.45 621.83,67.02 622.20,68.10 C622.57,69.18 624.53,70.88 625.50,71.90 C626.47,72.92 627.02,73.30 628.00,74.20 C628.98,75.10 629.57,76.07 631.40,77.30 C633.23,78.53 635.40,80.25 639.00,81.60 C642.60,82.95 648.33,84.33 653.00,85.40 C657.67,86.47 663.82,87.23 667.00,88.00 C670.18,88.77 671.25,89.67 672.10,90.00 L585.20,90.20 C585.98,90.92 589.03,93.25 589.90,94.50 C590.77,95.75 590.58,96.63 590.40,97.70 C590.22,98.77 589.67,99.95 588.80,100.90 C587.93,101.85 585.80,102.98 585.20,103.40 L672.10,103.70 C669.82,104.32 662.13,106.15 658.40,107.40 C654.67,108.65 651.87,109.93 649.70,111.20 C647.53,112.47 646.43,113.78 645.40,115.00 C644.37,116.22 643.77,117.35 643.50,118.50 C643.23,119.65 643.12,121.05 643.80,121.90 C644.48,122.75 645.17,122.88 647.60,123.60 C650.03,124.32 655.17,125.32 658.40,126.20 C661.63,127.08 664.72,127.87 667.00,128.90 C669.28,129.93 671.25,131.82 672.10,132.40 L585.20,132.40 C586.70,132.90 590.90,134.35 594.20,135.40 C597.50,136.45 602.30,137.62 605.00,138.70 C607.70,139.78 608.97,140.85 610.40,141.90 C611.83,142.95 612.88,143.93 613.60,145.00 C614.32,146.07 614.88,147.03 614.70,148.30 C614.52,149.57 614.12,151.25 612.50,152.60 C610.88,153.95 608.05,154.95 605.00,156.40 C601.95,157.85 596.63,159.77 594.20,161.30 C591.77,162.83 591.18,163.82 590.40,165.60 C589.62,167.38 589.77,170.03 589.50,172.00 C589.23,173.97 589.18,176.05 588.80,177.40 C588.42,178.75 587.80,179.15 587.20,180.10 C586.60,181.05 585.53,182.60 585.20,183.10 L672.10,183.30 C672.12,183.42 672.34,183.78 672.21,184.02 C672.07,184.26 671.74,184.49 671.28,184.73 C670.83,184.97 670.03,185.21 669.48,185.45 C668.92,185.69 668.27,185.93 667.96,186.17 C667.65,186.41 667.63,186.65 667.64,186.88 C667.64,187.12 667.97,187.36 668.00,187.60 C668.04,187.84 668.09,188.08 667.85,188.32 C667.61,188.56 667.03,188.80 666.56,189.04 C666.09,189.27 665.39,189.51 665.03,189.75 C664.66,189.99 664.40,190.23 664.36,190.47 C664.33,190.71 664.62,190.95 664.80,191.19 C664.98,191.43 665.38,191.66 665.44,191.90 C665.50,192.14 665.42,192.38 665.15,192.62 C664.89,192.86 664.30,193.10 663.87,193.34 C663.44,193.58 662.82,193.82 662.55,194.05 C662.27,194.29 662.19,194.53 662.22,194.77 C662.25,195.01 662.62,195.25 662.74,195.49 C662.85,195.73 663.05,195.97 662.92,196.21 C662.79,196.44 662.40,196.68 661.97,196.92 C661.55,197.16 660.82,197.40 660.35,197.64 C659.88,197.88 659.36,198.12 659.15,198.36 C658.94,198.59 659.03,198.83 659.08,199.07 C659.12,199.31 659.43,199.55 659.41,199.79 C659.38,200.03 659.28,200.27 658.94,200.51 C658.60,200.75 657.90,200.98 657.34,201.22 C656.79,201.46 656.03,201.70 655.61,201.94 C655.19,202.18 654.94,202.42 654.84,202.66 C654.74,202.90 654.98,203.14 655.00,203.37 C655.02,203.61 655.15,203.85 654.95,204.09 C654.76,204.33 654.33,204.57 653.82,204.81 C653.31,205.05 652.47,205.29 651.90,205.53 C651.32,205.76 650.69,206.00 650.37,206.24 C650.05,206.48 650.02,206.72 649.98,206.96 C649.93,207.20 650.25,207.44 650.10,207.68 C649.96,207.92 649.62,208.15 649.10,208.39 C648.58,208.63 647.74,208.87 646.97,209.11 C646.21,209.35 645.19,209.59 644.51,209.83 C643.83,210.07 643.21,210.31 642.88,210.54 C642.56,210.78 642.62,211.02 642.54,211.26 C642.46,211.50 642.61,211.74 642.39,211.98 C642.18,212.22 641.79,212.46 641.25,212.69 C640.71,212.93 639.83,213.17 639.18,213.41 C638.52,213.65 637.75,213.89 637.30,214.13 C636.86,214.37 636.67,214.61 636.53,214.85 C636.39,215.08 636.57,215.32 636.47,215.56 C636.37,215.80 636.30,216.04 635.93,216.28 C635.56,216.52 634.90,216.76 634.25,217.00 C633.61,217.24 632.67,217.47 632.05,217.71 C631.43,217.95 630.86,218.19 630.54,218.43 C630.22,218.67 630.30,218.91 630.15,219.15 C630.00,219.39 629.97,219.63 629.65,219.86 C629.33,220.10 628.89,220.34 628.23,220.58 C627.58,220.82 626.48,221.06 625.74,221.30 C625.00,221.54 624.42,221.78 623.81,222.02 C623.19,222.25 622.57,222.49 622.04,222.73 C621.50,222.97 620.95,223.21 620.60,223.45 C620.25,223.69 620.10,223.93 619.95,224.17 C619.81,224.41 619.80,224.64 619.73,224.88 C619.65,225.12 619.54,225.48 619.50,225.60" stroke="#d95319"/>
<path d="M629.20,36.60 C629.12,37.27 629.32,38.85 628.70,40.60 C628.08,42.35 627.12,45.20 625.50,47.10 C623.88,49.00 621.88,50.73 619.00,52.00 C616.12,53.27 611.80,53.80 608.20,54.70 C604.60,55.60 600.27,56.43 597.40,57.40 C594.53,58.37 592.62,59.35 591.00,60.50 C589.38,61.65 588.60,62.77 587.70,64.30 C586.80,65.83 585.95,68.08 585.60,69.70 C585.25,71.32 585.07,72.92 585.60,74.00 C586.13,75.08 586.47,75.57 588.80,76.20 C591.13,76.83 595.28,77.27 599.60,77.80 C603.92,78.33 611.47,78.77 614.70,79.40 C617.93,80.03 617.93,80.70 619.00,81.60 C620.07,82.50 619.85,83.55 621.10,84.80 C622.35,86.05 624.60,87.93 626.50,89.10 C628.40,90.27 630.78,90.72 632.50,91.80 C634.22,92.88 635.90,94.25 636.80,95.60 C637.70,96.95 638.00,98.12 637.90,99.90 C637.80,101.68 636.38,104.33 636.20,106.30 C636.02,108.27 635.80,110.35 636.80,111.70 C637.80,113.05 639.50,113.68 642.20,114.40 C644.90,115.12 649.05,115.45 653.00,116.00 C656.95,116.55 662.72,116.98 665.90,117.70 C669.08,118.42 671.07,119.87 672.10,120.30 L585.20,120.30 C586.70,121.38 591.45,124.82 594.20,126.80 C596.95,128.78 598.10,130.95 601.70,132.20 C605.30,133.45 611.08,133.50 615.80,134.30 C620.52,135.10 626.87,136.37 630.00,137.00 C633.13,137.63 633.28,137.47 634.60,138.10 C635.92,138.73 637.00,139.73 637.90,140.80 C638.80,141.87 640.18,143.33 640.00,144.50 C639.82,145.67 638.47,146.85 636.80,147.80 C635.13,148.75 631.80,149.57 630.00,150.20 C628.20,150.83 627.83,151.02 626.00,151.60 C624.17,152.18 620.88,152.63 619.00,153.70 C617.12,154.77 615.42,156.38 614.70,158.00 C613.98,159.62 614.52,161.60 614.70,163.40 C614.88,165.20 615.45,167.37 615.80,168.80 C616.15,170.23 616.45,170.38 616.80,172.00 C617.15,173.62 617.77,176.58 617.90,178.50 C618.03,180.42 617.70,182.58 617.60,183.50 C617.50,184.42 617.38,183.86 617.27,184.03 C617.16,184.21 617.05,184.39 616.94,184.57 C616.83,184.74 616.72,184.92 616.61,185.10 C616.50,185.28 616.39,185.45 616.28,185.63 C616.18,185.81 616.05,185.99 615.97,186.16 C615.88,186.34 615.84,186.52 615.78,186.70 C615.73,186.88 615.73,187.05 615.64,187.23 C615.55,187.41 615.42,187.59 615.24,187.76 C615.07,187.94 614.79,188.12 614.58,188.30 C614.37,188.47 614.11,188.65 614.00,188.83 C613.90,189.01 613.86,189.18 613.93,189.36 C614.00,189.54 614.25,189.72 614.42,189.89 C614.60,190.07 614.91,190.25 615.01,190.43 C615.10,190.61 615.16,190.78 615.00,190.96 C614.85,191.14 614.47,191.32 614.08,191.49 C613.68,191.67 613.04,191.85 612.62,192.03 C612.20,192.20 611.72,192.38 611.56,192.56 C611.40,192.74 611.43,192.91 611.64,193.09 C611.85,193.27 612.41,193.45 612.82,193.63 C613.23,193.80 613.87,193.98 614.11,194.16 C614.35,194.34 614.43,194.51 614.24,194.69 C614.04,194.87 613.49,195.05 612.95,195.22 C612.41,195.40 611.56,195.58 611.02,195.76 C610.48,195.93 609.90,196.11 609.69,196.29 C609.48,196.47 609.54,196.65 609.77,196.82 C609.99,197.00 610.58,197.18 611.04,197.36 C611.50,197.53 612.19,197.71 612.50,197.89 C612.81,198.07 613.01,198.24 612.91,198.42 C612.80,198.60 612.35,198.78 611.87,198.95 C611.40,199.13 610.58,199.31 610.05,199.49 C609.52,199.66 608.91,199.84 608.67,200.02 C608.44,200.20 608.44,200.38 608.64,200.55 C608.85,200.73 609.43,200.91 609.89,201.09 C610.35,201.26 611.06,201.44 611.41,201.62 C611.76,201.80 612.05,201.97 612.00,202.15 C611.96,202.33 611.58,202.51 611.14,202.68 C610.70,202.86 609.90,203.04 609.35,203.22 C608.80,203.40 608.14,203.57 607.85,203.75 C607.56,203.93 607.47,204.11 607.62,204.28 C607.77,204.46 608.29,204.64 608.75,204.82 C609.21,204.99 609.96,205.17 610.37,205.35 C610.79,205.53 611.19,205.70 611.24,205.88 C611.29,206.06 611.03,206.24 610.67,206.42 C610.30,206.59 609.57,206.77 609.04,206.95 C608.52,207.13 607.84,207.30 607.54,207.48 C607.23,207.66 607.09,207.84 607.22,208.01 C607.35,208.19 607.85,208.37 608.31,208.55 C608.77,208.72 609.54,208.90 609.99,209.08 C610.44,209.26 610.91,209.44 611.02,209.61 C611.12,209.79 610.95,209.97 610.63,210.15 C610.31,210.32 609.61,210.50 609.09,210.68 C608.56,210.86 607.84,211.03 607.49,211.21 C607.14,211.39 606.92,211.57 606.99,211.74 C607.06,211.92 607.48,212.10 607.92,212.28 C608.35,212.45 609.12,212.63 609.59,212.81 C610.07,212.99 610.60,213.17 610.77,213.34 C610.93,213.52 610.85,213.70 610.57,213.88 C610.30,214.05 609.65,214.23 609.13,214.41 C608.61,214.59 607.85,214.76 607.47,214.94 C607.09,215.12 606.80,215.30 606.83,215.47 C606.86,215.65 607.24,215.83 607.66,216.01 C608.08,216.19 608.85,216.36 609.36,216.54 C609.87,216.72 610.49,216.90 610.73,217.07 C610.97,217.25 610.99,217.43 610.80,217.61 C610.60,217.78 610.02,217.96 609.53,218.14 C609.05,218.32 608.30,218.49 607.89,218.67 C607.48,218.85 607.11,219.03 607.08,219.21 C607.06,219.38 607.35,219.56 607.73,219.74 C608.11,219.92 608.86,220.09 609.38,220.27 C609.90,220.45 610.57,220.63 610.86,220.80 C611.15,220.98 611.27,221.16 611.12,221.34 C610.98,221.51 610.46,221.69 610.00,221.87 C609.53,222.05 608.77,222.22 608.33,222.40 C607.89,222.58 607.44,222.76 607.36,222.94 C607.27,223.11 607.48,223.29 607.82,223.47 C608.16,223.65 608.87,223.82 609.40,224.00 C609.92,224.18 610.64,224.36 610.98,224.53 C611.31,224.71 611.51,224.89 611.43,225.07 C611.34,225.24 610.61,225.51 610.45,225.60" stroke="#edb120"/>
</g>
<line x1="438.3" y1="36.4" x2="438.3" y2="225.6" stroke="#262626" stroke-width="0.6"/>
<line x1="438.3" y1="225.6" x2="534.4" y2="225.6" stroke="#262626" stroke-width="0.6"/>
<line x1="434.3" y1="36.4" x2="438.3" y2="36.4" stroke="#262626" stroke-width="0.6"/>
<text x="431.0" y="39.8" font-size="10" text-anchor="end" fill="#222">0</text>
<line x1="436.3" y1="45.86" x2="438.3" y2="45.86" stroke="#262626" stroke-width="0.6"/>
<line x1="436.3" y1="55.32" x2="438.3" y2="55.32" stroke="#262626" stroke-width="0.6"/>
<line x1="436.3" y1="64.78" x2="438.3" y2="64.78" stroke="#262626" stroke-width="0.6"/>
<line x1="434.3" y1="74.24000000000001" x2="438.3" y2="74.24000000000001" stroke="#262626" stroke-width="0.6"/>
<text x="431.0" y="77.64000000000001" font-size="10" text-anchor="end" fill="#222">20</text>
<line x1="436.3" y1="83.69999999999999" x2="438.3" y2="83.69999999999999" stroke="#262626" stroke-width="0.6"/>
<line x1="436.3" y1="93.16" x2="438.3" y2="93.16" stroke="#262626" stroke-width="0.6"/>
<line x1="436.3" y1="102.62" x2="438.3" y2="102.62" stroke="#262626" stroke-width="0.6"/>
<line x1="434.3" y1="112.08000000000001" x2="438.3" y2="112.08000000000001" stroke="#262626" stroke-width="0.6"/>
<text x="431.0" y="115.48000000000002" font-size="10" text-anchor="end" fill="#222">40</text>
<line x1="436.3" y1="121.53999999999999" x2="438.3" y2="121.53999999999999" stroke="#262626" stroke-width="0.6"/>
<line x1="436.3" y1="131.0" x2="438.3" y2="131.0" stroke="#262626" stroke-width="0.6"/>
<line x1="436.3" y1="140.46" x2="438.3" y2="140.46" stroke="#262626" stroke-width="0.6"/>
<line x1="434.3" y1="149.92" x2="438.3" y2="149.92" stroke="#262626" stroke-width="0.6"/>
<text x="431.0" y="153.32" font-size="10" text-anchor="end" fill="#222">60</text>
<line x1="436.3" y1="159.38" x2="438.3" y2="159.38" stroke="#262626" stroke-width="0.6"/>
<line x1="436.3" y1="168.84" x2="438.3" y2="168.84" stroke="#262626" stroke-width="0.6"/>
<line x1="436.3" y1="178.3" x2="438.3" y2="178.3" stroke="#262626" stroke-width="0.6"/>
<line x1="434.3" y1="187.76000000000002" x2="438.3" y2="187.76000000000002" stroke="#262626" stroke-width="0.6"/>
<text x="431.0" y="191.16000000000003" font-size="10" text-anchor="end" fill="#222">80</text>
<line x1="436.3" y1="197.22" x2="438.3" y2="197.22" stroke="#262626" stroke-width="0.6"/>
<line x1="436.3" y1="206.68" x2="438.3" y2="206.68" stroke="#262626" stroke-width="0.6"/>
<line x1="436.3" y1="216.14000000000001" x2="438.3" y2="216.14000000000001" stroke="#262626" stroke-width="0.6"/>
<line x1="434.3" y1="225.6" x2="438.3" y2="225.6" stroke="#262626" stroke-width="0.6"/>
<text x="431.0" y="229.0" font-size="10" text-anchor="end" fill="#222">100</text>
<line x1="438.3" y1="225.6" x2="438.3" y2="229.6" stroke="#262626" stroke-width="0.6"/>
<line x1="447.91" y1="225.6" x2="447.91" y2="227.6" stroke="#262626" stroke-width="0.6"/>
<line x1="457.52" y1="225.6" x2="457.52" y2="227.6" stroke="#262626" stroke-width="0.6"/>
<line x1="467.13" y1="225.6" x2="467.13" y2="227.6" stroke="#262626" stroke-width="0.6"/>
<line x1="476.74" y1="225.6" x2="476.74" y2="227.6" stroke="#262626" stroke-width="0.6"/>
<line x1="486.35" y1="225.6" x2="486.35" y2="229.6" stroke="#262626" stroke-width="0.6"/>
<line x1="495.96" y1="225.6" x2="495.96" y2="227.6" stroke="#262626" stroke-width="0.6"/>
<line x1="505.57" y1="225.6" x2="505.57" y2="227.6" stroke="#262626" stroke-width="0.6"/>
<line x1="515.18" y1="225.6" x2="515.18" y2="227.6" stroke="#262626" stroke-width="0.6"/>
<line x1="524.79" y1="225.6" x2="524.79" y2="227.6" stroke="#262626" stroke-width="0.6"/>
<line x1="534.4" y1="225.6" x2="534.4" y2="229.6" stroke="#262626" stroke-width="0.6"/>
<text x="438.3" y="242.4" font-size="10" text-anchor="middle" fill="#222">0</text>
<text x="486.35" y="242.4" font-size="10" text-anchor="middle" fill="#222">0.5</text>
<text x="534.4" y="242.4" font-size="10" text-anchor="middle" fill="#222">1</text>
<line x1="580.4" y1="36.4" x2="580.4" y2="225.6" stroke="#262626" stroke-width="0.6"/>
<line x1="580.4" y1="225.6" x2="676.9" y2="225.6" stroke="#262626" stroke-width="0.6"/>
<line x1="576.4" y1="36.4" x2="580.4" y2="36.4" stroke="#262626" stroke-width="0.6"/>
<text x="573.1" y="39.8" font-size="10" text-anchor="end" fill="#222">0</text>
<line x1="578.4" y1="45.86" x2="580.4" y2="45.86" stroke="#262626" stroke-width="0.6"/>
<line x1="578.4" y1="55.32" x2="580.4" y2="55.32" stroke="#262626" stroke-width="0.6"/>
<line x1="578.4" y1="64.78" x2="580.4" y2="64.78" stroke="#262626" stroke-width="0.6"/>
<line x1="576.4" y1="74.24000000000001" x2="580.4" y2="74.24000000000001" stroke="#262626" stroke-width="0.6"/>
<text x="573.1" y="77.64000000000001" font-size="10" text-anchor="end" fill="#222">20</text>
<line x1="578.4" y1="83.69999999999999" x2="580.4" y2="83.69999999999999" stroke="#262626" stroke-width="0.6"/>
<line x1="578.4" y1="93.16" x2="580.4" y2="93.16" stroke="#262626" stroke-width="0.6"/>
<line x1="578.4" y1="102.62" x2="580.4" y2="102.62" stroke="#262626" stroke-width="0.6"/>
<line x1="576.4" y1="112.08000000000001" x2="580.4" y2="112.08000000000001" stroke="#262626" stroke-width="0.6"/>
<text x="573.1" y="115.48000000000002" font-size="10" text-anchor="end" fill="#222">40</text>
<line x1="578.4" y1="121.53999999999999" x2="580.4" y2="121.53999999999999" stroke="#262626" stroke-width="0.6"/>
<line x1="578.4" y1="131.0" x2="580.4" y2="131.0" stroke="#262626" stroke-width="0.6"/>
<line x1="578.4" y1="140.46" x2="580.4" y2="140.46" stroke="#262626" stroke-width="0.6"/>
<line x1="576.4" y1="149.92" x2="580.4" y2="149.92" stroke="#262626" stroke-width="0.6"/>
<text x="573.1" y="153.32" font-size="10" text-anchor="end" fill="#222">60</text>
<line x1="578.4" y1="159.38" x2="580.4" y2="159.38" stroke="#262626" stroke-width="0.6"/>
<line x1="578.4" y1="168.84" x2="580.4" y2="168.84" stroke="#262626" stroke-width="0.6"/>
<line x1="578.4" y1="178.3" x2="580.4" y2="178.3" stroke="#262626" stroke-width="0.6"/>
<line x1="576.4" y1="187.76000000000002" x2="580.4" y2="187.76000000000002" stroke="#262626" stroke-width="0.6"/>
<text x="573.1" y="191.16000000000003" font-size="10" text-anchor="end" fill="#222">80</text>
<line x1="578.4" y1="197.22" x2="580.4" y2="197.22" stroke="#262626" stroke-width="0.6"/>
<line x1="578.4" y1="206.68" x2="580.4" y2="206.68" stroke="#262626" stroke-width="0.6"/>
<line x1="578.4" y1="216.14000000000001" x2="580.4" y2="216.14000000000001" stroke="#262626" stroke-width="0.6"/>
<line x1="576.4" y1="225.6" x2="580.4" y2="225.6" stroke="#262626" stroke-width="0.6"/>
<text x="573.1" y="229.0" font-size="10" text-anchor="end" fill="#222">100</text>
<line x1="580.4" y1="225.6" x2="580.4" y2="229.6" stroke="#262626" stroke-width="0.6"/>
<line x1="592.4625" y1="225.6" x2="592.4625" y2="227.6" stroke="#262626" stroke-width="0.6"/>
<line x1="604.525" y1="225.6" x2="604.525" y2="227.6" stroke="#262626" stroke-width="0.6"/>
<line x1="616.5875" y1="225.6" x2="616.5875" y2="227.6" stroke="#262626" stroke-width="0.6"/>
<line x1="628.65" y1="225.6" x2="628.65" y2="229.6" stroke="#262626" stroke-width="0.6"/>
<line x1="640.7125" y1="225.6" x2="640.7125" y2="227.6" stroke="#262626" stroke-width="0.6"/>
<line x1="652.775" y1="225.6" x2="652.775" y2="227.6" stroke="#262626" stroke-width="0.6"/>
<line x1="664.8375" y1="225.6" x2="664.8375" y2="227.6" stroke="#262626" stroke-width="0.6"/>
<line x1="676.9" y1="225.6" x2="676.9" y2="229.6" stroke="#262626" stroke-width="0.6"/>
<text x="580.4" y="242.4" font-size="10" text-anchor="middle" fill="#222">-200</text>
<text x="628.65" y="242.4" font-size="10" text-anchor="middle" fill="#222">0</text>
<text x="676.9" y="242.4" font-size="10" text-anchor="middle" fill="#222">200</text>
<text x="486.4" y="32.9" font-size="10.2" font-weight="bold" text-anchor="middle" fill="#000">Amplitude</text>
<text x="628.7" y="33.1" font-size="10.2" font-weight="bold" text-anchor="middle" fill="#000">Phase</text>
<text x="486.4" y="254.8" font-size="10.3" text-anchor="middle" fill="#222">normalization</text>
<text x="628.5" y="254.4" font-size="10.3" text-anchor="middle" fill="#222">degree</text>
<text x="412.6" y="130" font-size="10.5" fill="#222" text-anchor="middle" transform="rotate(-90 412.6 130)">Depth (m)</text>
<rect x="474.4" y="181.6" width="54.9" height="38.3" fill="#fff" stroke="#262626" stroke-width="0.6"/>
<line x1="476.8" y1="188.9" x2="493.7" y2="188.9" stroke="#0072bd" stroke-width="1.3"/>
<text x="495.6" y="192.3" font-size="10" fill="#222">100 m</text>
<line x1="476.8" y1="200.75" x2="493.7" y2="200.75" stroke="#d95319" stroke-width="1.3"/>
<text x="495.6" y="204.15" font-size="10" fill="#222">500 m</text>
<line x1="476.8" y1="212.6" x2="493.7" y2="212.6" stroke="#edb120" stroke-width="1.3"/>
<text x="495.6" y="216.0" font-size="10" fill="#222">1000 m</text>
</g></svg></body></html>
